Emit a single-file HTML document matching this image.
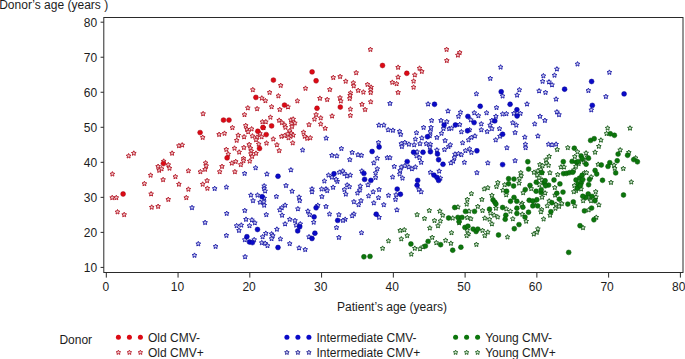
<!DOCTYPE html>
<html><head><meta charset="utf-8"><style>
html,body{margin:0;padding:0;background:#fff;}
svg{display:block;}
text{font-family:"Liberation Sans",sans-serif;font-size:12px;fill:#1c1c1c;}
</style></head><body>
<svg width="685" height="359" viewBox="0 0 685 359">
<rect width="685" height="359" fill="#fff"/>
<rect x="103.8" y="17.5" width="579.2" height="255" fill="none" stroke="#2a2a2a" stroke-width="1.0"/>
<line x1="100.6" y1="267.41" x2="103.8" y2="267.41" stroke="#2a2a2a" stroke-width="1.0"/>
<text x="97.2" y="272.01" text-anchor="end">10</text>
<line x1="100.6" y1="232.38" x2="103.8" y2="232.38" stroke="#2a2a2a" stroke-width="1.0"/>
<text x="97.2" y="236.98" text-anchor="end">20</text>
<line x1="100.6" y1="197.35" x2="103.8" y2="197.35" stroke="#2a2a2a" stroke-width="1.0"/>
<text x="97.2" y="201.95" text-anchor="end">30</text>
<line x1="100.6" y1="162.32" x2="103.8" y2="162.32" stroke="#2a2a2a" stroke-width="1.0"/>
<text x="97.2" y="166.92" text-anchor="end">40</text>
<line x1="100.6" y1="127.29" x2="103.8" y2="127.29" stroke="#2a2a2a" stroke-width="1.0"/>
<text x="97.2" y="131.89" text-anchor="end">50</text>
<line x1="100.6" y1="92.26" x2="103.8" y2="92.26" stroke="#2a2a2a" stroke-width="1.0"/>
<text x="97.2" y="96.86" text-anchor="end">60</text>
<line x1="100.6" y1="57.23" x2="103.8" y2="57.23" stroke="#2a2a2a" stroke-width="1.0"/>
<text x="97.2" y="61.83" text-anchor="end">70</text>
<line x1="100.6" y1="22.20" x2="103.8" y2="22.20" stroke="#2a2a2a" stroke-width="1.0"/>
<text x="97.2" y="26.80" text-anchor="end">80</text>
<line x1="106.30" y1="272.3" x2="106.30" y2="277.6" stroke="#2a2a2a" stroke-width="1.0"/>
<text x="105.90" y="290.8" text-anchor="middle">0</text>
<line x1="178.06" y1="272.3" x2="178.06" y2="277.6" stroke="#2a2a2a" stroke-width="1.0"/>
<text x="177.50" y="290.8" text-anchor="middle">10</text>
<line x1="249.82" y1="272.3" x2="249.82" y2="277.6" stroke="#2a2a2a" stroke-width="1.0"/>
<text x="249.09" y="290.8" text-anchor="middle">20</text>
<line x1="321.58" y1="272.3" x2="321.58" y2="277.6" stroke="#2a2a2a" stroke-width="1.0"/>
<text x="320.69" y="290.8" text-anchor="middle">30</text>
<line x1="393.34" y1="272.3" x2="393.34" y2="277.6" stroke="#2a2a2a" stroke-width="1.0"/>
<text x="392.29" y="290.8" text-anchor="middle">40</text>
<line x1="465.10" y1="272.3" x2="465.10" y2="277.6" stroke="#2a2a2a" stroke-width="1.0"/>
<text x="463.89" y="290.8" text-anchor="middle">50</text>
<line x1="536.86" y1="272.3" x2="536.86" y2="277.6" stroke="#2a2a2a" stroke-width="1.0"/>
<text x="535.49" y="290.8" text-anchor="middle">60</text>
<line x1="608.62" y1="272.3" x2="608.62" y2="277.6" stroke="#2a2a2a" stroke-width="1.0"/>
<text x="607.08" y="290.8" text-anchor="middle">70</text>
<line x1="680.38" y1="272.3" x2="680.38" y2="277.6" stroke="#2a2a2a" stroke-width="1.0"/>
<text x="678.68" y="290.8" text-anchor="middle">80</text>
<text x="-0.8" y="8.9">Donor’s age (years )</text>
<text x="392" y="311" text-anchor="middle">Patient’s age (years)</text>
<text x="59.4" y="343.8">Donor</text>
<circle cx="118.40" cy="337.3" r="2.5" fill="#dc0a14"/>
<polygon points="118.40,350.10 119.11,351.53 120.68,351.76 119.54,352.87 119.81,354.44 118.40,353.70 116.99,354.44 117.26,352.87 116.12,351.76 117.69,351.53" fill="#f0c4c8" stroke="#b8202e" stroke-width="0.9"/>
<circle cx="129.40" cy="337.3" r="2.5" fill="#dc0a14"/>
<polygon points="129.40,350.10 130.11,351.53 131.68,351.76 130.54,352.87 130.81,354.44 129.40,353.70 127.99,354.44 128.26,352.87 127.12,351.76 128.69,351.53" fill="#f0c4c8" stroke="#b8202e" stroke-width="0.9"/>
<circle cx="140.40" cy="337.3" r="2.5" fill="#dc0a14"/>
<polygon points="140.40,350.10 141.11,351.53 142.68,351.76 141.54,352.87 141.81,354.44 140.40,353.70 138.99,354.44 139.26,352.87 138.12,351.76 139.69,351.53" fill="#f0c4c8" stroke="#b8202e" stroke-width="0.9"/>
<text x="148.00" y="341.8">Old CMV-</text>
<text x="148.00" y="356.7">Old CMV+</text>
<circle cx="286.90" cy="337.3" r="2.5" fill="#0a0ac8"/>
<polygon points="286.90,350.10 287.61,351.53 289.18,351.76 288.04,352.87 288.31,354.44 286.90,353.70 285.49,354.44 285.76,352.87 284.62,351.76 286.19,351.53" fill="#c8c8f0" stroke="#262694" stroke-width="0.9"/>
<circle cx="297.90" cy="337.3" r="2.5" fill="#0a0ac8"/>
<polygon points="297.90,350.10 298.61,351.53 300.18,351.76 299.04,352.87 299.31,354.44 297.90,353.70 296.49,354.44 296.76,352.87 295.62,351.76 297.19,351.53" fill="#c8c8f0" stroke="#262694" stroke-width="0.9"/>
<circle cx="308.90" cy="337.3" r="2.5" fill="#0a0ac8"/>
<polygon points="308.90,350.10 309.61,351.53 311.18,351.76 310.04,352.87 310.31,354.44 308.90,353.70 307.49,354.44 307.76,352.87 306.62,351.76 308.19,351.53" fill="#c8c8f0" stroke="#262694" stroke-width="0.9"/>
<text x="316.50" y="341.8">Intermediate CMV-</text>
<text x="316.50" y="356.7">Intermediate CMV+</text>
<circle cx="455.60" cy="337.3" r="2.5" fill="#0c760c"/>
<polygon points="455.60,350.10 456.31,351.53 457.88,351.76 456.74,352.87 457.01,354.44 455.60,353.70 454.19,354.44 454.46,352.87 453.32,351.76 454.89,351.53" fill="#c8e4c8" stroke="#226022" stroke-width="0.9"/>
<circle cx="466.60" cy="337.3" r="2.5" fill="#0c760c"/>
<polygon points="466.60,350.10 467.31,351.53 468.88,351.76 467.74,352.87 468.01,354.44 466.60,353.70 465.19,354.44 465.46,352.87 464.32,351.76 465.89,351.53" fill="#c8e4c8" stroke="#226022" stroke-width="0.9"/>
<circle cx="477.60" cy="337.3" r="2.5" fill="#0c760c"/>
<polygon points="477.60,350.10 478.31,351.53 479.88,351.76 478.74,352.87 479.01,354.44 477.60,353.70 476.19,354.44 476.46,352.87 475.32,351.76 476.89,351.53" fill="#c8e4c8" stroke="#226022" stroke-width="0.9"/>
<text x="485.20" y="341.8">Young CMV-</text>
<text x="485.20" y="356.7">Young CMV+</text>
<polygon points="345.70,78.80 346.43,80.29 348.08,80.53 346.89,81.69 347.17,83.32 345.70,82.55 344.23,83.32 344.51,81.69 343.32,80.53 344.97,80.29" fill="#f0c4c8" stroke="#b8202e" stroke-width="1.0"/>
<polygon points="353.30,80.40 354.03,81.89 355.68,82.13 354.49,83.29 354.77,84.92 353.30,84.15 351.83,84.92 352.11,83.29 350.92,82.13 352.57,81.89" fill="#f0c4c8" stroke="#b8202e" stroke-width="1.0"/>
<polygon points="353.70,83.50 354.43,84.99 356.08,85.23 354.89,86.39 355.17,88.02 353.70,87.25 352.23,88.02 352.51,86.39 351.32,85.23 352.97,84.99" fill="#f0c4c8" stroke="#b8202e" stroke-width="1.0"/>
<polygon points="367.50,82.00 368.23,83.49 369.88,83.73 368.69,84.89 368.97,86.52 367.50,85.75 366.03,86.52 366.31,84.89 365.12,83.73 366.77,83.49" fill="#f0c4c8" stroke="#b8202e" stroke-width="1.0"/>
<polygon points="371.10,84.80 371.83,86.29 373.48,86.53 372.29,87.69 372.57,89.32 371.10,88.55 369.63,89.32 369.91,87.69 368.72,86.53 370.37,86.29" fill="#f0c4c8" stroke="#b8202e" stroke-width="1.0"/>
<polygon points="370.70,87.20 371.43,88.69 373.08,88.93 371.89,90.09 372.17,91.72 370.70,90.95 369.23,91.72 369.51,90.09 368.32,88.93 369.97,88.69" fill="#f0c4c8" stroke="#b8202e" stroke-width="1.0"/>
<polygon points="370.70,90.10 371.43,91.59 373.08,91.83 371.89,92.99 372.17,94.62 370.70,93.85 369.23,94.62 369.51,92.99 368.32,91.83 369.97,91.59" fill="#f0c4c8" stroke="#b8202e" stroke-width="1.0"/>
<polygon points="358.20,88.00 358.93,89.49 360.58,89.73 359.39,90.89 359.67,92.52 358.20,91.75 356.73,92.52 357.01,90.89 355.82,89.73 357.47,89.49" fill="#f0c4c8" stroke="#b8202e" stroke-width="1.0"/>
<polygon points="363.40,89.70 364.13,91.19 365.78,91.43 364.59,92.59 364.87,94.22 363.40,93.45 361.93,94.22 362.21,92.59 361.02,91.43 362.67,91.19" fill="#f0c4c8" stroke="#b8202e" stroke-width="1.0"/>
<polygon points="350.50,90.50 351.23,91.99 352.88,92.23 351.69,93.39 351.97,95.02 350.50,94.25 349.03,95.02 349.31,93.39 348.12,92.23 349.77,91.99" fill="#f0c4c8" stroke="#b8202e" stroke-width="1.0"/>
<polygon points="350.10,92.90 350.83,94.39 352.48,94.63 351.29,95.79 351.57,97.42 350.10,96.65 348.63,97.42 348.91,95.79 347.72,94.63 349.37,94.39" fill="#f0c4c8" stroke="#b8202e" stroke-width="1.0"/>
<polygon points="349.70,96.10 350.43,97.59 352.08,97.83 350.89,98.99 351.17,100.62 349.70,99.85 348.23,100.62 348.51,98.99 347.32,97.83 348.97,97.59" fill="#f0c4c8" stroke="#b8202e" stroke-width="1.0"/>
<polygon points="370.70,99.40 371.43,100.89 373.08,101.13 371.89,102.29 372.17,103.92 370.70,103.15 369.23,103.92 369.51,102.29 368.32,101.13 369.97,100.89" fill="#f0c4c8" stroke="#b8202e" stroke-width="1.0"/>
<polygon points="362.00,101.90 362.73,103.39 364.38,103.63 363.19,104.79 363.47,106.42 362.00,105.65 360.53,106.42 360.81,104.79 359.62,103.63 361.27,103.39" fill="#f0c4c8" stroke="#b8202e" stroke-width="1.0"/>
<polygon points="419.50,65.80 420.23,67.29 421.88,67.53 420.69,68.69 420.97,70.32 419.50,69.55 418.03,70.32 418.31,68.69 417.12,67.53 418.77,67.29" fill="#f0c4c8" stroke="#b8202e" stroke-width="1.0"/>
<polygon points="421.80,69.00 422.53,70.49 424.18,70.73 422.99,71.89 423.27,73.52 421.80,72.75 420.33,73.52 420.61,71.89 419.42,70.73 421.07,70.49" fill="#f0c4c8" stroke="#b8202e" stroke-width="1.0"/>
<polygon points="414.80,72.50 415.53,73.99 417.18,74.23 415.99,75.39 416.27,77.02 414.80,76.25 413.33,77.02 413.61,75.39 412.42,74.23 414.07,73.99" fill="#f0c4c8" stroke="#b8202e" stroke-width="1.0"/>
<polygon points="413.60,78.70 414.33,80.19 415.98,80.43 414.79,81.59 415.07,83.22 413.60,82.45 412.13,83.22 412.41,81.59 411.22,80.43 412.87,80.19" fill="#f0c4c8" stroke="#b8202e" stroke-width="1.0"/>
<polygon points="392.30,79.90 393.03,81.39 394.68,81.63 393.49,82.79 393.77,84.42 392.30,83.65 390.83,84.42 391.11,82.79 389.92,81.63 391.57,81.39" fill="#f0c4c8" stroke="#b8202e" stroke-width="1.0"/>
<polygon points="396.60,81.30 397.33,82.79 398.98,83.03 397.79,84.19 398.07,85.82 396.60,85.05 395.13,85.82 395.41,84.19 394.22,83.03 395.87,82.79" fill="#f0c4c8" stroke="#b8202e" stroke-width="1.0"/>
<polygon points="398.10,90.00 398.83,91.49 400.48,91.73 399.29,92.89 399.57,94.52 398.10,93.75 396.63,94.52 396.91,92.89 395.72,91.73 397.37,91.49" fill="#f0c4c8" stroke="#b8202e" stroke-width="1.0"/>
<polygon points="413.60,84.80 414.33,86.29 415.98,86.53 414.79,87.69 415.07,89.32 413.60,88.55 412.13,89.32 412.41,87.69 411.22,86.53 412.87,86.29" fill="#f0c4c8" stroke="#b8202e" stroke-width="1.0"/>
<polygon points="446.80,58.10 447.53,59.59 449.18,59.83 447.99,60.99 448.27,62.62 446.80,61.85 445.33,62.62 445.61,60.99 444.42,59.83 446.07,59.59" fill="#f0c4c8" stroke="#b8202e" stroke-width="1.0"/>
<polygon points="203.10,111.30 203.83,112.79 205.48,113.03 204.29,114.19 204.57,115.82 203.10,115.05 201.63,115.82 201.91,114.19 200.72,113.03 202.37,112.79" fill="#f0c4c8" stroke="#b8202e" stroke-width="1.0"/>
<polygon points="247.80,105.50 248.53,106.99 250.18,107.23 248.99,108.39 249.27,110.02 247.80,109.25 246.33,110.02 246.61,108.39 245.42,107.23 247.07,106.99" fill="#f0c4c8" stroke="#b8202e" stroke-width="1.0"/>
<polygon points="257.10,106.30 257.83,107.79 259.48,108.03 258.29,109.19 258.57,110.82 257.10,110.05 255.63,110.82 255.91,109.19 254.72,108.03 256.37,107.79" fill="#f0c4c8" stroke="#b8202e" stroke-width="1.0"/>
<polygon points="244.50,112.20 245.23,113.69 246.88,113.93 245.69,115.09 245.97,116.72 244.50,115.95 243.03,116.72 243.31,115.09 242.12,113.93 243.77,113.69" fill="#f0c4c8" stroke="#b8202e" stroke-width="1.0"/>
<polygon points="202.70,135.00 203.43,136.49 205.08,136.73 203.89,137.89 204.17,139.52 202.70,138.75 201.23,139.52 201.51,137.89 200.32,136.73 201.97,136.49" fill="#f0c4c8" stroke="#b8202e" stroke-width="1.0"/>
<polygon points="219.10,132.00 219.83,133.49 221.48,133.73 220.29,134.89 220.57,136.52 219.10,135.75 217.63,136.52 217.91,134.89 216.72,133.73 218.37,133.49" fill="#f0c4c8" stroke="#b8202e" stroke-width="1.0"/>
<polygon points="224.50,130.90 225.23,132.39 226.88,132.63 225.69,133.79 225.97,135.42 224.50,134.65 223.03,135.42 223.31,133.79 222.12,132.63 223.77,132.39" fill="#f0c4c8" stroke="#b8202e" stroke-width="1.0"/>
<polygon points="232.40,125.20 233.13,126.69 234.78,126.93 233.59,128.09 233.87,129.72 232.40,128.95 230.93,129.72 231.21,128.09 230.02,126.93 231.67,126.69" fill="#f0c4c8" stroke="#b8202e" stroke-width="1.0"/>
<polygon points="245.70,123.10 246.43,124.59 248.08,124.83 246.89,125.99 247.17,127.62 245.70,126.85 244.23,127.62 244.51,125.99 243.32,124.83 244.97,124.59" fill="#f0c4c8" stroke="#b8202e" stroke-width="1.0"/>
<polygon points="247.00,126.90 247.73,128.39 249.38,128.63 248.19,129.79 248.47,131.42 247.00,130.65 245.53,131.42 245.81,129.79 244.62,128.63 246.27,128.39" fill="#f0c4c8" stroke="#b8202e" stroke-width="1.0"/>
<polygon points="251.60,126.50 252.33,127.99 253.98,128.23 252.79,129.39 253.07,131.02 251.60,130.25 250.13,131.02 250.41,129.39 249.22,128.23 250.87,127.99" fill="#f0c4c8" stroke="#b8202e" stroke-width="1.0"/>
<polygon points="248.20,129.40 248.93,130.89 250.58,131.13 249.39,132.29 249.67,133.92 248.20,133.15 246.73,133.92 247.01,132.29 245.82,131.13 247.47,130.89" fill="#f0c4c8" stroke="#b8202e" stroke-width="1.0"/>
<polygon points="238.20,132.80 238.93,134.29 240.58,134.53 239.39,135.69 239.67,137.32 238.20,136.55 236.73,137.32 237.01,135.69 235.82,134.53 237.47,134.29" fill="#f0c4c8" stroke="#b8202e" stroke-width="1.0"/>
<polygon points="236.70,137.90 237.43,139.39 239.08,139.63 237.89,140.79 238.17,142.42 236.70,141.65 235.23,142.42 235.51,140.79 234.32,139.63 235.97,139.39" fill="#f0c4c8" stroke="#b8202e" stroke-width="1.0"/>
<polygon points="244.10,134.40 244.83,135.89 246.48,136.13 245.29,137.29 245.57,138.92 244.10,138.15 242.63,138.92 242.91,137.29 241.72,136.13 243.37,135.89" fill="#f0c4c8" stroke="#b8202e" stroke-width="1.0"/>
<polygon points="252.40,133.60 253.13,135.09 254.78,135.33 253.59,136.49 253.87,138.12 252.40,137.35 250.93,138.12 251.21,136.49 250.02,135.33 251.67,135.09" fill="#f0c4c8" stroke="#b8202e" stroke-width="1.0"/>
<polygon points="262.40,119.40 263.13,120.89 264.78,121.13 263.59,122.29 263.87,123.92 262.40,123.15 260.93,123.92 261.21,122.29 260.02,121.13 261.67,120.89" fill="#f0c4c8" stroke="#b8202e" stroke-width="1.0"/>
<polygon points="265.80,119.40 266.53,120.89 268.18,121.13 266.99,122.29 267.27,123.92 265.80,123.15 264.33,123.92 264.61,122.29 263.42,121.13 265.07,120.89" fill="#f0c4c8" stroke="#b8202e" stroke-width="1.0"/>
<polygon points="263.60,125.20 264.33,126.69 265.98,126.93 264.79,128.09 265.07,129.72 263.60,128.95 262.13,129.72 262.41,128.09 261.22,126.93 262.87,126.69" fill="#f0c4c8" stroke="#b8202e" stroke-width="1.0"/>
<polygon points="259.90,131.10 260.63,132.59 262.28,132.83 261.09,133.99 261.37,135.62 259.90,134.85 258.43,135.62 258.71,133.99 257.52,132.83 259.17,132.59" fill="#f0c4c8" stroke="#b8202e" stroke-width="1.0"/>
<polygon points="257.00,134.80 257.73,136.29 259.38,136.53 258.19,137.69 258.47,139.32 257.00,138.55 255.53,139.32 255.81,137.69 254.62,136.53 256.27,136.29" fill="#f0c4c8" stroke="#b8202e" stroke-width="1.0"/>
<polygon points="261.60,134.40 262.33,135.89 263.98,136.13 262.79,137.29 263.07,138.92 261.60,138.15 260.13,138.92 260.41,137.29 259.22,136.13 260.87,135.89" fill="#f0c4c8" stroke="#b8202e" stroke-width="1.0"/>
<polygon points="270.40,114.80 271.13,116.29 272.78,116.53 271.59,117.69 271.87,119.32 270.40,118.55 268.93,119.32 269.21,117.69 268.02,116.53 269.67,116.29" fill="#f0c4c8" stroke="#b8202e" stroke-width="1.0"/>
<polygon points="273.30,136.60 274.03,138.09 275.68,138.33 274.49,139.49 274.77,141.12 273.30,140.35 271.83,141.12 272.11,139.49 270.92,138.33 272.57,138.09" fill="#f0c4c8" stroke="#b8202e" stroke-width="1.0"/>
<polygon points="266.50,140.70 267.23,142.19 268.88,142.43 267.69,143.59 267.97,145.22 266.50,144.45 265.03,145.22 265.31,143.59 264.12,142.43 265.77,142.19" fill="#f0c4c8" stroke="#b8202e" stroke-width="1.0"/>
<polygon points="249.20,142.10 249.93,143.59 251.58,143.83 250.39,144.99 250.67,146.62 249.20,145.85 247.73,146.62 248.01,144.99 246.82,143.83 248.47,143.59" fill="#f0c4c8" stroke="#b8202e" stroke-width="1.0"/>
<polygon points="258.70,141.70 259.43,143.19 261.08,143.43 259.89,144.59 260.17,146.22 258.70,145.45 257.23,146.22 257.51,144.59 256.32,143.43 257.97,143.19" fill="#f0c4c8" stroke="#b8202e" stroke-width="1.0"/>
<polygon points="279.20,117.90 279.93,119.39 281.58,119.63 280.39,120.79 280.67,122.42 279.20,121.65 277.73,122.42 278.01,120.79 276.82,119.63 278.47,119.39" fill="#f0c4c8" stroke="#b8202e" stroke-width="1.0"/>
<polygon points="281.90,120.20 282.63,121.69 284.28,121.93 283.09,123.09 283.37,124.72 281.90,123.95 280.43,124.72 280.71,123.09 279.52,121.93 281.17,121.69" fill="#f0c4c8" stroke="#b8202e" stroke-width="1.0"/>
<polygon points="284.60,122.60 285.33,124.09 286.98,124.33 285.79,125.49 286.07,127.12 284.60,126.35 283.13,127.12 283.41,125.49 282.22,124.33 283.87,124.09" fill="#f0c4c8" stroke="#b8202e" stroke-width="1.0"/>
<polygon points="285.40,124.90 286.13,126.39 287.78,126.63 286.59,127.79 286.87,129.42 285.40,128.65 283.93,129.42 284.21,127.79 283.02,126.63 284.67,126.39" fill="#f0c4c8" stroke="#b8202e" stroke-width="1.0"/>
<polygon points="290.90,117.50 291.63,118.99 293.28,119.23 292.09,120.39 292.37,122.02 290.90,121.25 289.43,122.02 289.71,120.39 288.52,119.23 290.17,118.99" fill="#f0c4c8" stroke="#b8202e" stroke-width="1.0"/>
<polygon points="293.20,116.70 293.93,118.19 295.58,118.43 294.39,119.59 294.67,121.22 293.20,120.45 291.73,121.22 292.01,119.59 290.82,118.43 292.47,118.19" fill="#f0c4c8" stroke="#b8202e" stroke-width="1.0"/>
<polygon points="294.80,120.60 295.53,122.09 297.18,122.33 295.99,123.49 296.27,125.12 294.80,124.35 293.33,125.12 293.61,123.49 292.42,122.33 294.07,122.09" fill="#f0c4c8" stroke="#b8202e" stroke-width="1.0"/>
<polygon points="291.60,121.40 292.33,122.89 293.98,123.13 292.79,124.29 293.07,125.92 291.60,125.15 290.13,125.92 290.41,124.29 289.22,123.13 290.87,122.89" fill="#f0c4c8" stroke="#b8202e" stroke-width="1.0"/>
<polygon points="292.00,124.10 292.73,125.59 294.38,125.83 293.19,126.99 293.47,128.62 292.00,127.85 290.53,128.62 290.81,126.99 289.62,125.83 291.27,125.59" fill="#f0c4c8" stroke="#b8202e" stroke-width="1.0"/>
<polygon points="289.70,128.40 290.43,129.89 292.08,130.13 290.89,131.29 291.17,132.92 289.70,132.15 288.23,132.92 288.51,131.29 287.32,130.13 288.97,129.89" fill="#f0c4c8" stroke="#b8202e" stroke-width="1.0"/>
<polygon points="291.20,130.80 291.93,132.29 293.58,132.53 292.39,133.69 292.67,135.32 291.20,134.55 289.73,135.32 290.01,133.69 288.82,132.53 290.47,132.29" fill="#f0c4c8" stroke="#b8202e" stroke-width="1.0"/>
<polygon points="293.20,132.70 293.93,134.19 295.58,134.43 294.39,135.59 294.67,137.22 293.20,136.45 291.73,137.22 292.01,135.59 290.82,134.43 292.47,134.19" fill="#f0c4c8" stroke="#b8202e" stroke-width="1.0"/>
<polygon points="290.50,133.90 291.23,135.39 292.88,135.63 291.69,136.79 291.97,138.42 290.50,137.65 289.03,138.42 289.31,136.79 288.12,135.63 289.77,135.39" fill="#f0c4c8" stroke="#b8202e" stroke-width="1.0"/>
<polygon points="281.50,133.90 282.23,135.39 283.88,135.63 282.69,136.79 282.97,138.42 281.50,137.65 280.03,138.42 280.31,136.79 279.12,135.63 280.77,135.39" fill="#f0c4c8" stroke="#b8202e" stroke-width="1.0"/>
<polygon points="284.60,133.10 285.33,134.59 286.98,134.83 285.79,135.99 286.07,137.62 284.60,136.85 283.13,137.62 283.41,135.99 282.22,134.83 283.87,134.59" fill="#f0c4c8" stroke="#b8202e" stroke-width="1.0"/>
<polygon points="287.70,131.50 288.43,132.99 290.08,133.23 288.89,134.39 289.17,136.02 287.70,135.25 286.23,136.02 286.51,134.39 285.32,133.23 286.97,132.99" fill="#f0c4c8" stroke="#b8202e" stroke-width="1.0"/>
<polygon points="288.50,135.40 289.23,136.89 290.88,137.13 289.69,138.29 289.97,139.92 288.50,139.15 287.03,139.92 287.31,138.29 286.12,137.13 287.77,136.89" fill="#f0c4c8" stroke="#b8202e" stroke-width="1.0"/>
<polygon points="271.60,104.30 272.33,105.79 273.98,106.03 272.79,107.19 273.07,108.82 271.60,108.05 270.13,108.82 270.41,107.19 269.22,106.03 270.87,105.79" fill="#f0c4c8" stroke="#b8202e" stroke-width="1.0"/>
<polygon points="288.00,104.50 288.73,105.99 290.38,106.23 289.19,107.39 289.47,109.02 288.00,108.25 286.53,109.02 286.81,107.39 285.62,106.23 287.27,105.99" fill="#f0c4c8" stroke="#b8202e" stroke-width="1.0"/>
<polygon points="279.80,107.10 280.53,108.59 282.18,108.83 280.99,109.99 281.27,111.62 279.80,110.85 278.33,111.62 278.61,109.99 277.42,108.83 279.07,108.59" fill="#f0c4c8" stroke="#b8202e" stroke-width="1.0"/>
<polygon points="316.10,112.20 316.83,113.69 318.48,113.93 317.29,115.09 317.57,116.72 316.10,115.95 314.63,116.72 314.91,115.09 313.72,113.93 315.37,113.69" fill="#f0c4c8" stroke="#b8202e" stroke-width="1.0"/>
<polygon points="314.50,116.70 315.23,118.19 316.88,118.43 315.69,119.59 315.97,121.22 314.50,120.45 313.03,121.22 313.31,119.59 312.12,118.43 313.77,118.19" fill="#f0c4c8" stroke="#b8202e" stroke-width="1.0"/>
<polygon points="320.70,115.50 321.43,116.99 323.08,117.23 321.89,118.39 322.17,120.02 320.70,119.25 319.23,120.02 319.51,118.39 318.32,117.23 319.97,116.99" fill="#f0c4c8" stroke="#b8202e" stroke-width="1.0"/>
<polygon points="332.10,113.60 332.83,115.09 334.48,115.33 333.29,116.49 333.57,118.12 332.10,117.35 330.63,118.12 330.91,116.49 329.72,115.33 331.37,115.09" fill="#f0c4c8" stroke="#b8202e" stroke-width="1.0"/>
<polygon points="309.00,122.20 309.73,123.69 311.38,123.93 310.19,125.09 310.47,126.72 309.00,125.95 307.53,126.72 307.81,125.09 306.62,123.93 308.27,123.69" fill="#f0c4c8" stroke="#b8202e" stroke-width="1.0"/>
<polygon points="320.70,121.60 321.43,123.09 323.08,123.33 321.89,124.49 322.17,126.12 320.70,125.35 319.23,126.12 319.51,124.49 318.32,123.33 319.97,123.09" fill="#f0c4c8" stroke="#b8202e" stroke-width="1.0"/>
<polygon points="325.20,125.90 325.93,127.39 327.58,127.63 326.39,128.79 326.67,130.42 325.20,129.65 323.73,130.42 324.01,128.79 322.82,127.63 324.47,127.39" fill="#f0c4c8" stroke="#b8202e" stroke-width="1.0"/>
<polygon points="303.50,129.80 304.23,131.29 305.88,131.53 304.69,132.69 304.97,134.32 303.50,133.55 302.03,134.32 302.31,132.69 301.12,131.53 302.77,131.29" fill="#f0c4c8" stroke="#b8202e" stroke-width="1.0"/>
<polygon points="304.70,133.90 305.43,135.39 307.08,135.63 305.89,136.79 306.17,138.42 304.70,137.65 303.23,138.42 303.51,136.79 302.32,135.63 303.97,135.39" fill="#f0c4c8" stroke="#b8202e" stroke-width="1.0"/>
<polygon points="307.20,135.90 307.93,137.39 309.58,137.63 308.39,138.79 308.67,140.42 307.20,139.65 305.73,140.42 306.01,138.79 304.82,137.63 306.47,137.39" fill="#f0c4c8" stroke="#b8202e" stroke-width="1.0"/>
<polygon points="310.30,135.40 311.03,136.89 312.68,137.13 311.49,138.29 311.77,139.92 310.30,139.15 308.83,139.92 309.11,138.29 307.92,137.13 309.57,136.89" fill="#f0c4c8" stroke="#b8202e" stroke-width="1.0"/>
<polygon points="365.10,107.10 365.83,108.59 367.48,108.83 366.29,109.99 366.57,111.62 365.10,110.85 363.63,111.62 363.91,109.99 362.72,108.83 364.37,108.59" fill="#f0c4c8" stroke="#b8202e" stroke-width="1.0"/>
<polygon points="350.40,106.70 351.13,108.19 352.78,108.43 351.59,109.59 351.87,111.22 350.40,110.45 348.93,111.22 349.21,109.59 348.02,108.43 349.67,108.19" fill="#f0c4c8" stroke="#b8202e" stroke-width="1.0"/>
<polygon points="350.40,113.00 351.13,114.49 352.78,114.73 351.59,115.89 351.87,117.52 350.40,116.75 348.93,117.52 349.21,115.89 348.02,114.73 349.67,114.49" fill="#f0c4c8" stroke="#b8202e" stroke-width="1.0"/>
<polygon points="128.60,153.50 129.33,154.99 130.98,155.23 129.79,156.39 130.07,158.02 128.60,157.25 127.13,158.02 127.41,156.39 126.22,155.23 127.87,154.99" fill="#f0c4c8" stroke="#b8202e" stroke-width="1.0"/>
<polygon points="133.80,150.80 134.53,152.29 136.18,152.53 134.99,153.69 135.27,155.32 133.80,154.55 132.33,155.32 132.61,153.69 131.42,152.53 133.07,152.29" fill="#f0c4c8" stroke="#b8202e" stroke-width="1.0"/>
<polygon points="178.90,143.30 179.63,144.79 181.28,145.03 180.09,146.19 180.37,147.82 178.90,147.05 177.43,147.82 177.71,146.19 176.52,145.03 178.17,144.79" fill="#f0c4c8" stroke="#b8202e" stroke-width="1.0"/>
<polygon points="182.20,142.60 182.93,144.09 184.58,144.33 183.39,145.49 183.67,147.12 182.20,146.35 180.73,147.12 181.01,145.49 179.82,144.33 181.47,144.09" fill="#f0c4c8" stroke="#b8202e" stroke-width="1.0"/>
<polygon points="172.10,150.80 172.83,152.29 174.48,152.53 173.29,153.69 173.57,155.32 172.10,154.55 170.63,155.32 170.91,153.69 169.72,152.53 171.37,152.29" fill="#f0c4c8" stroke="#b8202e" stroke-width="1.0"/>
<polygon points="163.70,158.80 164.43,160.29 166.08,160.53 164.89,161.69 165.17,163.32 163.70,162.55 162.23,163.32 162.51,161.69 161.32,160.53 162.97,160.29" fill="#f0c4c8" stroke="#b8202e" stroke-width="1.0"/>
<polygon points="158.10,164.00 158.83,165.49 160.48,165.73 159.29,166.89 159.57,168.52 158.10,167.75 156.63,168.52 156.91,166.89 155.72,165.73 157.37,165.49" fill="#f0c4c8" stroke="#b8202e" stroke-width="1.0"/>
<polygon points="159.20,167.90 159.93,169.39 161.58,169.63 160.39,170.79 160.67,172.42 159.20,171.65 157.73,172.42 158.01,170.79 156.82,169.63 158.47,169.39" fill="#f0c4c8" stroke="#b8202e" stroke-width="1.0"/>
<polygon points="161.60,166.40 162.33,167.89 163.98,168.13 162.79,169.29 163.07,170.92 161.60,170.15 160.13,170.92 160.41,169.29 159.22,168.13 160.87,167.89" fill="#f0c4c8" stroke="#b8202e" stroke-width="1.0"/>
<polygon points="168.30,162.30 169.03,163.79 170.68,164.03 169.49,165.19 169.77,166.82 168.30,166.05 166.83,166.82 167.11,165.19 165.92,164.03 167.57,163.79" fill="#f0c4c8" stroke="#b8202e" stroke-width="1.0"/>
<polygon points="169.50,165.80 170.23,167.29 171.88,167.53 170.69,168.69 170.97,170.32 169.50,169.55 168.03,170.32 168.31,168.69 167.12,167.53 168.77,167.29" fill="#f0c4c8" stroke="#b8202e" stroke-width="1.0"/>
<polygon points="112.40,171.60 113.13,173.09 114.78,173.33 113.59,174.49 113.87,176.12 112.40,175.35 110.93,176.12 111.21,174.49 110.02,173.33 111.67,173.09" fill="#f0c4c8" stroke="#b8202e" stroke-width="1.0"/>
<polygon points="150.60,172.80 151.33,174.29 152.98,174.53 151.79,175.69 152.07,177.32 150.60,176.55 149.13,177.32 149.41,175.69 148.22,174.53 149.87,174.29" fill="#f0c4c8" stroke="#b8202e" stroke-width="1.0"/>
<polygon points="175.40,174.20 176.13,175.69 177.78,175.93 176.59,177.09 176.87,178.72 175.40,177.95 173.93,178.72 174.21,177.09 173.02,175.93 174.67,175.69" fill="#f0c4c8" stroke="#b8202e" stroke-width="1.0"/>
<polygon points="163.10,177.20 163.83,178.69 165.48,178.93 164.29,180.09 164.57,181.72 163.10,180.95 161.63,181.72 161.91,180.09 160.72,178.93 162.37,178.69" fill="#f0c4c8" stroke="#b8202e" stroke-width="1.0"/>
<polygon points="226.30,147.00 227.03,148.49 228.68,148.73 227.49,149.89 227.77,151.52 226.30,150.75 224.83,151.52 225.11,149.89 223.92,148.73 225.57,148.49" fill="#f0c4c8" stroke="#b8202e" stroke-width="1.0"/>
<polygon points="234.50,145.80 235.23,147.29 236.88,147.53 235.69,148.69 235.97,150.32 234.50,149.55 233.03,150.32 233.31,148.69 232.12,147.53 233.77,147.29" fill="#f0c4c8" stroke="#b8202e" stroke-width="1.0"/>
<polygon points="239.20,149.70 239.93,151.19 241.58,151.43 240.39,152.59 240.67,154.22 239.20,153.45 237.73,154.22 238.01,152.59 236.82,151.43 238.47,151.19" fill="#f0c4c8" stroke="#b8202e" stroke-width="1.0"/>
<polygon points="243.90,145.10 244.63,146.59 246.28,146.83 245.09,147.99 245.37,149.62 243.90,148.85 242.43,149.62 242.71,147.99 241.52,146.83 243.17,146.59" fill="#f0c4c8" stroke="#b8202e" stroke-width="1.0"/>
<polygon points="250.50,145.80 251.23,147.29 252.88,147.53 251.69,148.69 251.97,150.32 250.50,149.55 249.03,150.32 249.31,148.69 248.12,147.53 249.77,147.29" fill="#f0c4c8" stroke="#b8202e" stroke-width="1.0"/>
<polygon points="251.30,148.60 252.03,150.09 253.68,150.33 252.49,151.49 252.77,153.12 251.30,152.35 249.83,153.12 250.11,151.49 248.92,150.33 250.57,150.09" fill="#f0c4c8" stroke="#b8202e" stroke-width="1.0"/>
<polygon points="250.90,151.30 251.63,152.79 253.28,153.03 252.09,154.19 252.37,155.82 250.90,155.05 249.43,155.82 249.71,154.19 248.52,153.03 250.17,152.79" fill="#f0c4c8" stroke="#b8202e" stroke-width="1.0"/>
<polygon points="252.10,154.00 252.83,155.49 254.48,155.73 253.29,156.89 253.57,158.52 252.10,157.75 250.63,158.52 250.91,156.89 249.72,155.73 251.37,155.49" fill="#f0c4c8" stroke="#b8202e" stroke-width="1.0"/>
<polygon points="256.00,150.90 256.73,152.39 258.38,152.63 257.19,153.79 257.47,155.42 256.00,154.65 254.53,155.42 254.81,153.79 253.62,152.63 255.27,152.39" fill="#f0c4c8" stroke="#b8202e" stroke-width="1.0"/>
<polygon points="256.00,137.30 256.73,138.79 258.38,139.03 257.19,140.19 257.47,141.82 256.00,141.05 254.53,141.82 254.81,140.19 253.62,139.03 255.27,138.79" fill="#f0c4c8" stroke="#b8202e" stroke-width="1.0"/>
<polygon points="243.50,156.00 244.23,157.49 245.88,157.73 244.69,158.89 244.97,160.52 243.50,159.75 242.03,160.52 242.31,158.89 241.12,157.73 242.77,157.49" fill="#f0c4c8" stroke="#b8202e" stroke-width="1.0"/>
<polygon points="243.50,158.30 244.23,159.79 245.88,160.03 244.69,161.19 244.97,162.82 243.50,162.05 242.03,162.82 242.31,161.19 241.12,160.03 242.77,159.79" fill="#f0c4c8" stroke="#b8202e" stroke-width="1.0"/>
<polygon points="249.70,158.70 250.43,160.19 252.08,160.43 250.89,161.59 251.17,163.22 249.70,162.45 248.23,163.22 248.51,161.59 247.32,160.43 248.97,160.19" fill="#f0c4c8" stroke="#b8202e" stroke-width="1.0"/>
<polygon points="235.70,159.10 236.43,160.59 238.08,160.83 236.89,161.99 237.17,163.62 235.70,162.85 234.23,163.62 234.51,161.99 233.32,160.83 234.97,160.59" fill="#f0c4c8" stroke="#b8202e" stroke-width="1.0"/>
<polygon points="231.80,160.70 232.53,162.19 234.18,162.43 232.99,163.59 233.27,165.22 231.80,164.45 230.33,165.22 230.61,163.59 229.42,162.43 231.07,162.19" fill="#f0c4c8" stroke="#b8202e" stroke-width="1.0"/>
<polygon points="240.80,162.20 241.53,163.69 243.18,163.93 241.99,165.09 242.27,166.72 240.80,165.95 239.33,166.72 239.61,165.09 238.42,163.93 240.07,163.69" fill="#f0c4c8" stroke="#b8202e" stroke-width="1.0"/>
<polygon points="228.30,151.70 229.03,153.19 230.68,153.43 229.49,154.59 229.77,156.22 228.30,155.45 226.83,156.22 227.11,154.59 225.92,153.43 227.57,153.19" fill="#f0c4c8" stroke="#b8202e" stroke-width="1.0"/>
<polygon points="205.60,160.50 206.33,161.99 207.98,162.23 206.79,163.39 207.07,165.02 205.60,164.25 204.13,165.02 204.41,163.39 203.22,162.23 204.87,161.99" fill="#f0c4c8" stroke="#b8202e" stroke-width="1.0"/>
<polygon points="206.20,163.40 206.93,164.89 208.58,165.13 207.39,166.29 207.67,167.92 206.20,167.15 204.73,167.92 205.01,166.29 203.82,165.13 205.47,164.89" fill="#f0c4c8" stroke="#b8202e" stroke-width="1.0"/>
<polygon points="205.10,166.90 205.83,168.39 207.48,168.63 206.29,169.79 206.57,171.42 205.10,170.65 203.63,171.42 203.91,169.79 202.72,168.63 204.37,168.39" fill="#f0c4c8" stroke="#b8202e" stroke-width="1.0"/>
<polygon points="200.40,169.30 201.13,170.79 202.78,171.03 201.59,172.19 201.87,173.82 200.40,173.05 198.93,173.82 199.21,172.19 198.02,171.03 199.67,170.79" fill="#f0c4c8" stroke="#b8202e" stroke-width="1.0"/>
<polygon points="222.00,164.00 222.73,165.49 224.38,165.73 223.19,166.89 223.47,168.52 222.00,167.75 220.53,168.52 220.81,166.89 219.62,165.73 221.27,165.49" fill="#f0c4c8" stroke="#b8202e" stroke-width="1.0"/>
<polygon points="219.70,169.30 220.43,170.79 222.08,171.03 220.89,172.19 221.17,173.82 219.70,173.05 218.23,173.82 218.51,172.19 217.32,171.03 218.97,170.79" fill="#f0c4c8" stroke="#b8202e" stroke-width="1.0"/>
<polygon points="188.40,168.40 189.13,169.89 190.78,170.13 189.59,171.29 189.87,172.92 188.40,172.15 186.93,172.92 187.21,171.29 186.02,170.13 187.67,169.89" fill="#f0c4c8" stroke="#b8202e" stroke-width="1.0"/>
<polygon points="234.90,169.30 235.63,170.79 237.28,171.03 236.09,172.19 236.37,173.82 234.90,173.05 233.43,173.82 233.71,172.19 232.52,171.03 234.17,170.79" fill="#f0c4c8" stroke="#b8202e" stroke-width="1.0"/>
<polygon points="207.10,178.20 207.83,179.69 209.48,179.93 208.29,181.09 208.57,182.72 207.10,181.95 205.63,182.72 205.91,181.09 204.72,179.93 206.37,179.69" fill="#f0c4c8" stroke="#b8202e" stroke-width="1.0"/>
<polygon points="276.90,142.40 277.63,143.89 279.28,144.13 278.09,145.29 278.37,146.92 276.90,146.15 275.43,146.92 275.71,145.29 274.52,144.13 276.17,143.89" fill="#f0c4c8" stroke="#b8202e" stroke-width="1.0"/>
<polygon points="279.20,148.20 279.93,149.69 281.58,149.93 280.39,151.09 280.67,152.72 279.20,151.95 277.73,152.72 278.01,151.09 276.82,149.93 278.47,149.69" fill="#f0c4c8" stroke="#b8202e" stroke-width="1.0"/>
<polygon points="292.70,140.50 293.43,141.99 295.08,142.23 293.89,143.39 294.17,145.02 292.70,144.25 291.23,145.02 291.51,143.39 290.32,142.23 291.97,141.99" fill="#f0c4c8" stroke="#b8202e" stroke-width="1.0"/>
<polygon points="144.40,181.20 145.13,182.69 146.78,182.93 145.59,184.09 145.87,185.72 144.40,184.95 142.93,185.72 143.21,184.09 142.02,182.93 143.67,182.69" fill="#f0c4c8" stroke="#b8202e" stroke-width="1.0"/>
<polygon points="178.90,181.80 179.63,183.29 181.28,183.53 180.09,184.69 180.37,186.32 178.90,185.55 177.43,186.32 177.71,184.69 176.52,183.53 178.17,183.29" fill="#f0c4c8" stroke="#b8202e" stroke-width="1.0"/>
<polygon points="112.20,195.20 112.93,196.69 114.58,196.93 113.39,198.09 113.67,199.72 112.20,198.95 110.73,199.72 111.01,198.09 109.82,196.93 111.47,196.69" fill="#f0c4c8" stroke="#b8202e" stroke-width="1.0"/>
<polygon points="116.30,195.20 117.03,196.69 118.68,196.93 117.49,198.09 117.77,199.72 116.30,198.95 114.83,199.72 115.11,198.09 113.92,196.93 115.57,196.69" fill="#f0c4c8" stroke="#b8202e" stroke-width="1.0"/>
<polygon points="151.10,191.50 151.83,192.99 153.48,193.23 152.29,194.39 152.57,196.02 151.10,195.25 149.63,196.02 149.91,194.39 148.72,193.23 150.37,192.99" fill="#f0c4c8" stroke="#b8202e" stroke-width="1.0"/>
<polygon points="168.30,197.00 169.03,198.49 170.68,198.73 169.49,199.89 169.77,201.52 168.30,200.75 166.83,201.52 167.11,199.89 165.92,198.73 167.57,198.49" fill="#f0c4c8" stroke="#b8202e" stroke-width="1.0"/>
<polygon points="151.70,204.80 152.43,206.29 154.08,206.53 152.89,207.69 153.17,209.32 151.70,208.55 150.23,209.32 150.51,207.69 149.32,206.53 150.97,206.29" fill="#f0c4c8" stroke="#b8202e" stroke-width="1.0"/>
<polygon points="158.10,204.00 158.83,205.49 160.48,205.73 159.29,206.89 159.57,208.52 158.10,207.75 156.63,208.52 156.91,206.89 155.72,205.73 157.37,205.49" fill="#f0c4c8" stroke="#b8202e" stroke-width="1.0"/>
<polygon points="117.50,209.50 118.23,210.99 119.88,211.23 118.69,212.39 118.97,214.02 117.50,213.25 116.03,214.02 116.31,212.39 115.12,211.23 116.77,210.99" fill="#f0c4c8" stroke="#b8202e" stroke-width="1.0"/>
<polygon points="124.20,212.20 124.93,213.69 126.58,213.93 125.39,215.09 125.67,216.72 124.20,215.95 122.73,216.72 123.01,215.09 121.82,213.93 123.47,213.69" fill="#f0c4c8" stroke="#b8202e" stroke-width="1.0"/>
<polygon points="202.70,181.80 203.43,183.29 205.08,183.53 203.89,184.69 204.17,186.32 202.70,185.55 201.23,186.32 201.51,184.69 200.32,183.53 201.97,183.29" fill="#f0c4c8" stroke="#b8202e" stroke-width="1.0"/>
<polygon points="207.40,185.90 208.13,187.39 209.78,187.63 208.59,188.79 208.87,190.42 207.40,189.65 205.93,190.42 206.21,188.79 205.02,187.63 206.67,187.39" fill="#f0c4c8" stroke="#b8202e" stroke-width="1.0"/>
<polygon points="188.40,186.80 189.13,188.29 190.78,188.53 189.59,189.69 189.87,191.32 188.40,190.55 186.93,191.32 187.21,189.69 186.02,188.53 187.67,188.29" fill="#f0c4c8" stroke="#b8202e" stroke-width="1.0"/>
<polygon points="186.30,195.20 187.03,196.69 188.68,196.93 187.49,198.09 187.77,199.72 186.30,198.95 184.83,199.72 185.11,198.09 183.92,196.93 185.57,196.69" fill="#f0c4c8" stroke="#b8202e" stroke-width="1.0"/>
<polygon points="370.40,47.00 371.13,48.49 372.78,48.73 371.59,49.89 371.87,51.52 370.40,50.75 368.93,51.52 369.21,49.89 368.02,48.73 369.67,48.49" fill="#f0c4c8" stroke="#b8202e" stroke-width="1.0"/>
<polygon points="398.10,64.90 398.83,66.39 400.48,66.63 399.29,67.79 399.57,69.42 398.10,68.65 396.63,69.42 396.91,67.79 395.72,66.63 397.37,66.39" fill="#f0c4c8" stroke="#b8202e" stroke-width="1.0"/>
<polygon points="356.20,70.30 356.93,71.79 358.58,72.03 357.39,73.19 357.67,74.82 356.20,74.05 354.73,74.82 355.01,73.19 353.82,72.03 355.47,71.79" fill="#f0c4c8" stroke="#b8202e" stroke-width="1.0"/>
<polygon points="340.10,74.10 340.83,75.59 342.48,75.83 341.29,76.99 341.57,78.62 340.10,77.85 338.63,78.62 338.91,76.99 337.72,75.83 339.37,75.59" fill="#f0c4c8" stroke="#b8202e" stroke-width="1.0"/>
<polygon points="333.30,75.10 334.03,76.59 335.68,76.83 334.49,77.99 334.77,79.62 333.30,78.85 331.83,79.62 332.11,77.99 330.92,76.83 332.57,76.59" fill="#f0c4c8" stroke="#b8202e" stroke-width="1.0"/>
<polygon points="398.10,74.70 398.83,76.19 400.48,76.43 399.29,77.59 399.57,79.22 398.10,78.45 396.63,79.22 396.91,77.59 395.72,76.43 397.37,76.19" fill="#f0c4c8" stroke="#b8202e" stroke-width="1.0"/>
<polygon points="446.60,47.00 447.33,48.49 448.98,48.73 447.79,49.89 448.07,51.52 446.60,50.75 445.13,51.52 445.41,49.89 444.22,48.73 445.87,48.49" fill="#f0c4c8" stroke="#b8202e" stroke-width="1.0"/>
<polygon points="459.70,50.10 460.43,51.59 462.08,51.83 460.89,52.99 461.17,54.62 459.70,53.85 458.23,54.62 458.51,52.99 457.32,51.83 458.97,51.59" fill="#f0c4c8" stroke="#b8202e" stroke-width="1.0"/>
<polygon points="457.90,52.70 458.63,54.19 460.28,54.43 459.09,55.59 459.37,57.22 457.90,56.45 456.43,57.22 456.71,55.59 455.52,54.43 457.17,54.19" fill="#f0c4c8" stroke="#b8202e" stroke-width="1.0"/>
<polygon points="252.80,87.30 253.53,88.79 255.18,89.03 253.99,90.19 254.27,91.82 252.80,91.05 251.33,91.82 251.61,90.19 250.42,89.03 252.07,88.79" fill="#f0c4c8" stroke="#b8202e" stroke-width="1.0"/>
<polygon points="261.80,95.70 262.53,97.19 264.18,97.43 262.99,98.59 263.27,100.22 261.80,99.45 260.33,100.22 260.61,98.59 259.42,97.43 261.07,97.19" fill="#f0c4c8" stroke="#b8202e" stroke-width="1.0"/>
<polygon points="280.70,83.00 281.43,84.49 283.08,84.73 281.89,85.89 282.17,87.52 280.70,86.75 279.23,87.52 279.51,85.89 278.32,84.73 279.97,84.49" fill="#f0c4c8" stroke="#b8202e" stroke-width="1.0"/>
<polygon points="305.50,85.90 306.23,87.39 307.88,87.63 306.69,88.79 306.97,90.42 305.50,89.65 304.03,90.42 304.31,88.79 303.12,87.63 304.77,87.39" fill="#f0c4c8" stroke="#b8202e" stroke-width="1.0"/>
<polygon points="329.80,87.10 330.53,88.59 332.18,88.83 330.99,89.99 331.27,91.62 329.80,90.85 328.33,91.62 328.61,89.99 327.42,88.83 329.07,88.59" fill="#f0c4c8" stroke="#b8202e" stroke-width="1.0"/>
<polygon points="269.60,90.00 270.33,91.49 271.98,91.73 270.79,92.89 271.07,94.52 269.60,93.75 268.13,94.52 268.41,92.89 267.22,91.73 268.87,91.49" fill="#f0c4c8" stroke="#b8202e" stroke-width="1.0"/>
<polygon points="278.40,93.50 279.13,94.99 280.78,95.23 279.59,96.39 279.87,98.02 278.40,97.25 276.93,98.02 277.21,96.39 276.02,95.23 277.67,94.99" fill="#f0c4c8" stroke="#b8202e" stroke-width="1.0"/>
<polygon points="319.90,95.90 320.63,97.39 322.28,97.63 321.09,98.79 321.37,100.42 319.90,99.65 318.43,100.42 318.71,98.79 317.52,97.63 319.17,97.39" fill="#f0c4c8" stroke="#b8202e" stroke-width="1.0"/>
<polygon points="327.20,97.10 327.93,98.59 329.58,98.83 328.39,99.99 328.67,101.62 327.20,100.85 325.73,101.62 326.01,99.99 324.82,98.83 326.47,98.59" fill="#f0c4c8" stroke="#b8202e" stroke-width="1.0"/>
<polygon points="340.00,95.30 340.73,96.79 342.38,97.03 341.19,98.19 341.47,99.82 340.00,99.05 338.53,99.82 338.81,98.19 337.62,97.03 339.27,96.79" fill="#f0c4c8" stroke="#b8202e" stroke-width="1.0"/>
<polygon points="297.40,98.50 298.13,99.99 299.78,100.23 298.59,101.39 298.87,103.02 297.40,102.25 295.93,103.02 296.21,101.39 295.02,100.23 296.67,99.99" fill="#f0c4c8" stroke="#b8202e" stroke-width="1.0"/>
<polygon points="265.40,98.30 266.13,99.79 267.78,100.03 266.59,101.19 266.87,102.82 265.40,102.05 263.93,102.82 264.21,101.19 263.02,100.03 264.67,99.79" fill="#f0c4c8" stroke="#b8202e" stroke-width="1.0"/>
<polygon points="340.80,98.60 341.53,100.09 343.18,100.33 341.99,101.49 342.27,103.12 340.80,102.35 339.33,103.12 339.61,101.49 338.42,100.33 340.07,100.09" fill="#f0c4c8" stroke="#b8202e" stroke-width="1.0"/>
<circle cx="406.8" cy="73.3" r="2.45" fill="#dc0a14" stroke="#a00010" stroke-width="0.5"/>
<circle cx="223.5" cy="120.1" r="2.45" fill="#dc0a14" stroke="#a00010" stroke-width="0.5"/>
<circle cx="229.0" cy="120.1" r="2.45" fill="#dc0a14" stroke="#a00010" stroke-width="0.5"/>
<circle cx="200.1" cy="132.6" r="2.45" fill="#dc0a14" stroke="#a00010" stroke-width="0.5"/>
<circle cx="257.8" cy="131.3" r="2.45" fill="#dc0a14" stroke="#a00010" stroke-width="0.5"/>
<circle cx="262.9" cy="127.5" r="2.45" fill="#dc0a14" stroke="#a00010" stroke-width="0.5"/>
<circle cx="266.2" cy="134.6" r="2.45" fill="#dc0a14" stroke="#a00010" stroke-width="0.5"/>
<circle cx="271.6" cy="125.9" r="2.45" fill="#dc0a14" stroke="#a00010" stroke-width="0.5"/>
<circle cx="284.5" cy="105.1" r="2.45" fill="#dc0a14" stroke="#a00010" stroke-width="0.5"/>
<circle cx="317.0" cy="108.3" r="2.45" fill="#dc0a14" stroke="#a00010" stroke-width="0.5"/>
<circle cx="340.3" cy="107.1" r="2.45" fill="#dc0a14" stroke="#a00010" stroke-width="0.5"/>
<circle cx="163.4" cy="163.6" r="2.45" fill="#dc0a14" stroke="#a00010" stroke-width="0.5"/>
<circle cx="227.1" cy="157.9" r="2.45" fill="#dc0a14" stroke="#a00010" stroke-width="0.5"/>
<circle cx="259.5" cy="148.5" r="2.45" fill="#dc0a14" stroke="#a00010" stroke-width="0.5"/>
<circle cx="123.1" cy="194.0" r="2.45" fill="#dc0a14" stroke="#a00010" stroke-width="0.5"/>
<circle cx="382.5" cy="65.5" r="2.45" fill="#dc0a14" stroke="#a00010" stroke-width="0.5"/>
<circle cx="312.1" cy="71.9" r="2.45" fill="#dc0a14" stroke="#a00010" stroke-width="0.5"/>
<circle cx="316.1" cy="80.8" r="2.45" fill="#dc0a14" stroke="#a00010" stroke-width="0.5"/>
<circle cx="255.9" cy="97.4" r="2.45" fill="#dc0a14" stroke="#a00010" stroke-width="0.5"/>
<circle cx="273.4" cy="80.1" r="2.45" fill="#dc0a14" stroke="#a00010" stroke-width="0.5"/>
<polygon points="500.60,64.70 501.33,66.19 502.98,66.43 501.79,67.59 502.07,69.22 500.60,68.45 499.13,69.22 499.41,67.59 498.22,66.43 499.87,66.19" fill="#c8c8f0" stroke="#2424ac" stroke-width="1.0"/>
<polygon points="490.30,76.00 491.03,77.49 492.68,77.73 491.49,78.89 491.77,80.52 490.30,79.75 488.83,80.52 489.11,78.89 487.92,77.73 489.57,77.49" fill="#c8c8f0" stroke="#2424ac" stroke-width="1.0"/>
<polygon points="476.40,91.40 477.13,92.89 478.78,93.13 477.59,94.29 477.87,95.92 476.40,95.15 474.93,95.92 475.21,94.29 474.02,93.13 475.67,92.89" fill="#c8c8f0" stroke="#2424ac" stroke-width="1.0"/>
<polygon points="502.60,93.60 503.33,95.09 504.98,95.33 503.79,96.49 504.07,98.12 502.60,97.35 501.13,98.12 501.41,96.49 500.22,95.33 501.87,95.09" fill="#c8c8f0" stroke="#2424ac" stroke-width="1.0"/>
<polygon points="577.50,61.60 578.23,63.09 579.88,63.33 578.69,64.49 578.97,66.12 577.50,65.35 576.03,66.12 576.31,64.49 575.12,63.33 576.77,63.09" fill="#c8c8f0" stroke="#2424ac" stroke-width="1.0"/>
<polygon points="556.90,66.60 557.63,68.09 559.28,68.33 558.09,69.49 558.37,71.12 556.90,70.35 555.43,71.12 555.71,69.49 554.52,68.33 556.17,68.09" fill="#c8c8f0" stroke="#2424ac" stroke-width="1.0"/>
<polygon points="543.40,73.40 544.13,74.89 545.78,75.13 544.59,76.29 544.87,77.92 543.40,77.15 541.93,77.92 542.21,76.29 541.02,75.13 542.67,74.89" fill="#c8c8f0" stroke="#2424ac" stroke-width="1.0"/>
<polygon points="554.50,72.80 555.23,74.29 556.88,74.53 555.69,75.69 555.97,77.32 554.50,76.55 553.03,77.32 553.31,75.69 552.12,74.53 553.77,74.29" fill="#c8c8f0" stroke="#2424ac" stroke-width="1.0"/>
<polygon points="542.60,78.90 543.33,80.39 544.98,80.63 543.79,81.79 544.07,83.42 542.60,82.65 541.13,83.42 541.41,81.79 540.22,80.63 541.87,80.39" fill="#c8c8f0" stroke="#2424ac" stroke-width="1.0"/>
<polygon points="549.00,79.50 549.73,80.99 551.38,81.23 550.19,82.39 550.47,84.02 549.00,83.25 547.53,84.02 547.81,82.39 546.62,81.23 548.27,80.99" fill="#c8c8f0" stroke="#2424ac" stroke-width="1.0"/>
<polygon points="552.00,82.40 552.73,83.89 554.38,84.13 553.19,85.29 553.47,86.92 552.00,86.15 550.53,86.92 550.81,85.29 549.62,84.13 551.27,83.89" fill="#c8c8f0" stroke="#2424ac" stroke-width="1.0"/>
<polygon points="519.40,87.40 520.13,88.89 521.78,89.13 520.59,90.29 520.87,91.92 519.40,91.15 517.93,91.92 518.21,90.29 517.02,89.13 518.67,88.89" fill="#c8c8f0" stroke="#2424ac" stroke-width="1.0"/>
<polygon points="517.10,92.70 517.83,94.19 519.48,94.43 518.29,95.59 518.57,97.22 517.10,96.45 515.63,97.22 515.91,95.59 514.72,94.43 516.37,94.19" fill="#c8c8f0" stroke="#2424ac" stroke-width="1.0"/>
<polygon points="539.10,88.50 539.83,89.99 541.48,90.23 540.29,91.39 540.57,93.02 539.10,92.25 537.63,93.02 537.91,91.39 536.72,90.23 538.37,89.99" fill="#c8c8f0" stroke="#2424ac" stroke-width="1.0"/>
<polygon points="545.50,90.00 546.23,91.49 547.88,91.73 546.69,92.89 546.97,94.52 545.50,93.75 544.03,94.52 544.31,92.89 543.12,91.73 544.77,91.49" fill="#c8c8f0" stroke="#2424ac" stroke-width="1.0"/>
<polygon points="556.10,96.70 556.83,98.19 558.48,98.43 557.29,99.59 557.57,101.22 556.10,100.45 554.63,101.22 554.91,99.59 553.72,98.43 555.37,98.19" fill="#c8c8f0" stroke="#2424ac" stroke-width="1.0"/>
<polygon points="609.40,69.90 610.13,71.39 611.78,71.63 610.59,72.79 610.87,74.42 609.40,73.65 607.93,74.42 608.21,72.79 607.02,71.63 608.67,71.39" fill="#c8c8f0" stroke="#2424ac" stroke-width="1.0"/>
<polygon points="588.40,88.10 589.13,89.59 590.78,89.83 589.59,90.99 589.87,92.62 588.40,91.85 586.93,92.62 587.21,90.99 586.02,89.83 587.67,89.59" fill="#c8c8f0" stroke="#2424ac" stroke-width="1.0"/>
<polygon points="605.90,94.10 606.63,95.59 608.28,95.83 607.09,96.99 607.37,98.62 605.90,97.85 604.43,98.62 604.71,96.99 603.52,95.83 605.17,95.59" fill="#c8c8f0" stroke="#2424ac" stroke-width="1.0"/>
<polygon points="326.20,135.70 326.93,137.19 328.58,137.43 327.39,138.59 327.67,140.22 326.20,139.45 324.73,140.22 325.01,138.59 323.82,137.43 325.47,137.19" fill="#c8c8f0" stroke="#2424ac" stroke-width="1.0"/>
<polygon points="390.00,101.00 390.73,102.49 392.38,102.73 391.19,103.89 391.47,105.52 390.00,104.75 388.53,105.52 388.81,103.89 387.62,102.73 389.27,102.49" fill="#c8c8f0" stroke="#2424ac" stroke-width="1.0"/>
<polygon points="378.90,122.70 379.63,124.19 381.28,124.43 380.09,125.59 380.37,127.22 378.90,126.45 377.43,127.22 377.71,125.59 376.52,124.43 378.17,124.19" fill="#c8c8f0" stroke="#2424ac" stroke-width="1.0"/>
<polygon points="383.80,122.70 384.53,124.19 386.18,124.43 384.99,125.59 385.27,127.22 383.80,126.45 382.33,127.22 382.61,125.59 381.42,124.43 383.07,124.19" fill="#c8c8f0" stroke="#2424ac" stroke-width="1.0"/>
<polygon points="388.20,127.40 388.93,128.89 390.58,129.13 389.39,130.29 389.67,131.92 388.20,131.15 386.73,131.92 387.01,130.29 385.82,129.13 387.47,128.89" fill="#c8c8f0" stroke="#2424ac" stroke-width="1.0"/>
<polygon points="392.90,127.90 393.63,129.39 395.28,129.63 394.09,130.79 394.37,132.42 392.90,131.65 391.43,132.42 391.71,130.79 390.52,129.63 392.17,129.39" fill="#c8c8f0" stroke="#2424ac" stroke-width="1.0"/>
<polygon points="399.60,128.90 400.33,130.39 401.98,130.63 400.79,131.79 401.07,133.42 399.60,132.65 398.13,133.42 398.41,131.79 397.22,130.63 398.87,130.39" fill="#c8c8f0" stroke="#2424ac" stroke-width="1.0"/>
<polygon points="400.70,132.00 401.43,133.49 403.08,133.73 401.89,134.89 402.17,136.52 400.70,135.75 399.23,136.52 399.51,134.89 398.32,133.73 399.97,133.49" fill="#c8c8f0" stroke="#2424ac" stroke-width="1.0"/>
<polygon points="416.50,130.30 417.23,131.79 418.88,132.03 417.69,133.19 417.97,134.82 416.50,134.05 415.03,134.82 415.31,133.19 414.12,132.03 415.77,131.79" fill="#c8c8f0" stroke="#2424ac" stroke-width="1.0"/>
<polygon points="423.60,125.00 424.33,126.49 425.98,126.73 424.79,127.89 425.07,129.52 423.60,128.75 422.13,129.52 422.41,127.89 421.22,126.73 422.87,126.49" fill="#c8c8f0" stroke="#2424ac" stroke-width="1.0"/>
<polygon points="415.40,136.70 416.13,138.19 417.78,138.43 416.59,139.59 416.87,141.22 415.40,140.45 413.93,141.22 414.21,139.59 413.02,138.43 414.67,138.19" fill="#c8c8f0" stroke="#2424ac" stroke-width="1.0"/>
<polygon points="421.80,135.60 422.53,137.09 424.18,137.33 422.99,138.49 423.27,140.12 421.80,139.35 420.33,140.12 420.61,138.49 419.42,137.33 421.07,137.09" fill="#c8c8f0" stroke="#2424ac" stroke-width="1.0"/>
<polygon points="428.10,101.60 428.83,103.09 430.48,103.33 429.29,104.49 429.57,106.12 428.10,105.35 426.63,106.12 426.91,104.49 425.72,103.33 427.37,103.09" fill="#c8c8f0" stroke="#2424ac" stroke-width="1.0"/>
<polygon points="496.50,105.10 497.23,106.59 498.88,106.83 497.69,107.99 497.97,109.62 496.50,108.85 495.03,109.62 495.31,107.99 494.12,106.83 495.77,106.59" fill="#c8c8f0" stroke="#2424ac" stroke-width="1.0"/>
<polygon points="448.00,108.60 448.73,110.09 450.38,110.33 449.19,111.49 449.47,113.12 448.00,112.35 446.53,113.12 446.81,111.49 445.62,110.33 447.27,110.09" fill="#c8c8f0" stroke="#2424ac" stroke-width="1.0"/>
<polygon points="460.50,109.80 461.23,111.29 462.88,111.53 461.69,112.69 461.97,114.32 460.50,113.55 459.03,114.32 459.31,112.69 458.12,111.53 459.77,111.29" fill="#c8c8f0" stroke="#2424ac" stroke-width="1.0"/>
<polygon points="458.50,113.90 459.23,115.39 460.88,115.63 459.69,116.79 459.97,118.42 458.50,117.65 457.03,118.42 457.31,116.79 456.12,115.63 457.77,115.39" fill="#c8c8f0" stroke="#2424ac" stroke-width="1.0"/>
<polygon points="474.30,110.40 475.03,111.89 476.68,112.13 475.49,113.29 475.77,114.92 474.30,114.15 472.83,114.92 473.11,113.29 471.92,112.13 473.57,111.89" fill="#c8c8f0" stroke="#2424ac" stroke-width="1.0"/>
<polygon points="478.40,113.30 479.13,114.79 480.78,115.03 479.59,116.19 479.87,117.82 478.40,117.05 476.93,117.82 477.21,116.19 476.02,115.03 477.67,114.79" fill="#c8c8f0" stroke="#2424ac" stroke-width="1.0"/>
<polygon points="486.60,110.40 487.33,111.89 488.98,112.13 487.79,113.29 488.07,114.92 486.60,114.15 485.13,114.92 485.41,113.29 484.22,112.13 485.87,111.89" fill="#c8c8f0" stroke="#2424ac" stroke-width="1.0"/>
<polygon points="502.60,111.60 503.33,113.09 504.98,113.33 503.79,114.49 504.07,116.12 502.60,115.35 501.13,116.12 501.41,114.49 500.22,113.33 501.87,113.09" fill="#c8c8f0" stroke="#2424ac" stroke-width="1.0"/>
<polygon points="470.80,117.40 471.53,118.89 473.18,119.13 471.99,120.29 472.27,121.92 470.80,121.15 469.33,121.92 469.61,120.29 468.42,119.13 470.07,118.89" fill="#c8c8f0" stroke="#2424ac" stroke-width="1.0"/>
<polygon points="495.90,113.90 496.63,115.39 498.28,115.63 497.09,116.79 497.37,118.42 495.90,117.65 494.43,118.42 494.71,116.79 493.52,115.63 495.17,115.39" fill="#c8c8f0" stroke="#2424ac" stroke-width="1.0"/>
<polygon points="491.90,118.00 492.63,119.49 494.28,119.73 493.09,120.89 493.37,122.52 491.90,121.75 490.43,122.52 490.71,120.89 489.52,119.73 491.17,119.49" fill="#c8c8f0" stroke="#2424ac" stroke-width="1.0"/>
<polygon points="431.60,118.00 432.33,119.49 433.98,119.73 432.79,120.89 433.07,122.52 431.60,121.75 430.13,122.52 430.41,120.89 429.22,119.73 430.87,119.49" fill="#c8c8f0" stroke="#2424ac" stroke-width="1.0"/>
<polygon points="441.00,118.00 441.73,119.49 443.38,119.73 442.19,120.89 442.47,122.52 441.00,121.75 439.53,122.52 439.81,120.89 438.62,119.73 440.27,119.49" fill="#c8c8f0" stroke="#2424ac" stroke-width="1.0"/>
<polygon points="446.80,119.20 447.53,120.69 449.18,120.93 447.99,122.09 448.27,123.72 446.80,122.95 445.33,123.72 445.61,122.09 444.42,120.93 446.07,120.69" fill="#c8c8f0" stroke="#2424ac" stroke-width="1.0"/>
<polygon points="449.20,126.20 449.93,127.69 451.58,127.93 450.39,129.09 450.67,130.72 449.20,129.95 447.73,130.72 448.01,129.09 446.82,127.93 448.47,127.69" fill="#c8c8f0" stroke="#2424ac" stroke-width="1.0"/>
<polygon points="451.50,125.80 452.23,127.29 453.88,127.53 452.69,128.69 452.97,130.32 451.50,129.55 450.03,130.32 450.31,128.69 449.12,127.53 450.77,127.29" fill="#c8c8f0" stroke="#2424ac" stroke-width="1.0"/>
<polygon points="459.70,122.10 460.43,123.59 462.08,123.83 460.89,124.99 461.17,126.62 459.70,125.85 458.23,126.62 458.51,124.99 457.32,123.83 458.97,123.59" fill="#c8c8f0" stroke="#2424ac" stroke-width="1.0"/>
<polygon points="481.30,121.50 482.03,122.99 483.68,123.23 482.49,124.39 482.77,126.02 481.30,125.25 479.83,126.02 480.11,124.39 478.92,123.23 480.57,122.99" fill="#c8c8f0" stroke="#2424ac" stroke-width="1.0"/>
<polygon points="490.10,122.70 490.83,124.19 492.48,124.43 491.29,125.59 491.57,127.22 490.10,126.45 488.63,127.22 488.91,125.59 487.72,124.43 489.37,124.19" fill="#c8c8f0" stroke="#2424ac" stroke-width="1.0"/>
<polygon points="491.90,126.20 492.63,127.69 494.28,127.93 493.09,129.09 493.37,130.72 491.90,129.95 490.43,130.72 490.71,129.09 489.52,127.93 491.17,127.69" fill="#c8c8f0" stroke="#2424ac" stroke-width="1.0"/>
<polygon points="487.20,129.10 487.93,130.59 489.58,130.83 488.39,131.99 488.67,133.62 487.20,132.85 485.73,133.62 486.01,131.99 484.82,130.83 486.47,130.59" fill="#c8c8f0" stroke="#2424ac" stroke-width="1.0"/>
<polygon points="499.50,126.20 500.23,127.69 501.88,127.93 500.69,129.09 500.97,130.72 499.50,129.95 498.03,130.72 498.31,129.09 497.12,127.93 498.77,127.69" fill="#c8c8f0" stroke="#2424ac" stroke-width="1.0"/>
<polygon points="461.40,129.40 462.13,130.89 463.78,131.13 462.59,132.29 462.87,133.92 461.40,133.15 459.93,133.92 460.21,132.29 459.02,131.13 460.67,130.89" fill="#c8c8f0" stroke="#2424ac" stroke-width="1.0"/>
<polygon points="469.60,127.40 470.33,128.89 471.98,129.13 470.79,130.29 471.07,131.92 469.60,131.15 468.13,131.92 468.41,130.29 467.22,129.13 468.87,128.89" fill="#c8c8f0" stroke="#2424ac" stroke-width="1.0"/>
<polygon points="481.30,127.40 482.03,128.89 483.68,129.13 482.49,130.29 482.77,131.92 481.30,131.15 479.83,131.92 480.11,130.29 478.92,129.13 480.57,128.89" fill="#c8c8f0" stroke="#2424ac" stroke-width="1.0"/>
<polygon points="431.00,125.00 431.73,126.49 433.38,126.73 432.19,127.89 432.47,129.52 431.00,128.75 429.53,129.52 429.81,127.89 428.62,126.73 430.27,126.49" fill="#c8c8f0" stroke="#2424ac" stroke-width="1.0"/>
<polygon points="430.40,129.10 431.13,130.59 432.78,130.83 431.59,131.99 431.87,133.62 430.40,132.85 428.93,133.62 429.21,131.99 428.02,130.83 429.67,130.59" fill="#c8c8f0" stroke="#2424ac" stroke-width="1.0"/>
<polygon points="441.50,130.90 442.23,132.39 443.88,132.63 442.69,133.79 442.97,135.42 441.50,134.65 440.03,135.42 440.31,133.79 439.12,132.63 440.77,132.39" fill="#c8c8f0" stroke="#2424ac" stroke-width="1.0"/>
<polygon points="429.80,133.20 430.53,134.69 432.18,134.93 430.99,136.09 431.27,137.72 429.80,136.95 428.33,137.72 428.61,136.09 427.42,134.93 429.07,134.69" fill="#c8c8f0" stroke="#2424ac" stroke-width="1.0"/>
<polygon points="436.90,135.00 437.63,136.49 439.28,136.73 438.09,137.89 438.37,139.52 436.90,138.75 435.43,139.52 435.71,137.89 434.52,136.73 436.17,136.49" fill="#c8c8f0" stroke="#2424ac" stroke-width="1.0"/>
<polygon points="445.10,138.10 445.83,139.59 447.48,139.83 446.29,140.99 446.57,142.62 445.10,141.85 443.63,142.62 443.91,140.99 442.72,139.83 444.37,139.59" fill="#c8c8f0" stroke="#2424ac" stroke-width="1.0"/>
<polygon points="468.50,137.50 469.23,138.99 470.88,139.23 469.69,140.39 469.97,142.02 468.50,141.25 467.03,142.02 467.31,140.39 466.12,139.23 467.77,138.99" fill="#c8c8f0" stroke="#2424ac" stroke-width="1.0"/>
<polygon points="471.40,135.00 472.13,136.49 473.78,136.73 472.59,137.89 472.87,139.52 471.40,138.75 469.93,139.52 470.21,137.89 469.02,136.73 470.67,136.49" fill="#c8c8f0" stroke="#2424ac" stroke-width="1.0"/>
<polygon points="474.90,133.60 475.63,135.09 477.28,135.33 476.09,136.49 476.37,138.12 474.90,137.35 473.43,138.12 473.71,136.49 472.52,135.33 474.17,135.09" fill="#c8c8f0" stroke="#2424ac" stroke-width="1.0"/>
<polygon points="495.70,137.50 496.43,138.99 498.08,139.23 496.89,140.39 497.17,142.02 495.70,141.25 494.23,142.02 494.51,140.39 493.32,139.23 494.97,138.99" fill="#c8c8f0" stroke="#2424ac" stroke-width="1.0"/>
<polygon points="500.00,133.80 500.73,135.29 502.38,135.53 501.19,136.69 501.47,138.32 500.00,137.55 498.53,138.32 498.81,136.69 497.62,135.53 499.27,135.29" fill="#c8c8f0" stroke="#2424ac" stroke-width="1.0"/>
<polygon points="462.60,140.40 463.33,141.89 464.98,142.13 463.79,143.29 464.07,144.92 462.60,144.15 461.13,144.92 461.41,143.29 460.22,142.13 461.87,141.89" fill="#c8c8f0" stroke="#2424ac" stroke-width="1.0"/>
<polygon points="443.50,126.10 444.23,127.59 445.88,127.83 444.69,128.99 444.97,130.62 443.50,129.85 442.03,130.62 442.31,128.99 441.12,127.83 442.77,127.59" fill="#c8c8f0" stroke="#2424ac" stroke-width="1.0"/>
<polygon points="527.00,101.60 527.73,103.09 529.38,103.33 528.19,104.49 528.47,106.12 527.00,105.35 525.53,106.12 525.81,104.49 524.62,103.33 526.27,103.09" fill="#c8c8f0" stroke="#2424ac" stroke-width="1.0"/>
<polygon points="513.90,111.00 514.63,112.49 516.28,112.73 515.09,113.89 515.37,115.52 513.90,114.75 512.43,115.52 512.71,113.89 511.52,112.73 513.17,112.49" fill="#c8c8f0" stroke="#2424ac" stroke-width="1.0"/>
<polygon points="520.40,111.00 521.13,112.49 522.78,112.73 521.59,113.89 521.87,115.52 520.40,114.75 518.93,115.52 519.21,113.89 518.02,112.73 519.67,112.49" fill="#c8c8f0" stroke="#2424ac" stroke-width="1.0"/>
<polygon points="556.90,109.50 557.63,110.99 559.28,111.23 558.09,112.39 558.37,114.02 556.90,113.25 555.43,114.02 555.71,112.39 554.52,111.23 556.17,110.99" fill="#c8c8f0" stroke="#2424ac" stroke-width="1.0"/>
<polygon points="559.00,112.20 559.73,113.69 561.38,113.93 560.19,115.09 560.47,116.72 559.00,115.95 557.53,116.72 557.81,115.09 556.62,113.93 558.27,113.69" fill="#c8c8f0" stroke="#2424ac" stroke-width="1.0"/>
<polygon points="540.00,113.90 540.73,115.39 542.38,115.63 541.19,116.79 541.47,118.42 540.00,117.65 538.53,118.42 538.81,116.79 537.62,115.63 539.27,115.39" fill="#c8c8f0" stroke="#2424ac" stroke-width="1.0"/>
<polygon points="544.90,118.00 545.63,119.49 547.28,119.73 546.09,120.89 546.37,122.52 544.90,121.75 543.43,122.52 543.71,120.89 542.52,119.73 544.17,119.49" fill="#c8c8f0" stroke="#2424ac" stroke-width="1.0"/>
<polygon points="534.70,121.50 535.43,122.99 537.08,123.23 535.89,124.39 536.17,126.02 534.70,125.25 533.23,126.02 533.51,124.39 532.32,123.23 533.97,122.99" fill="#c8c8f0" stroke="#2424ac" stroke-width="1.0"/>
<polygon points="512.80,120.30 513.53,121.79 515.18,122.03 513.99,123.19 514.27,124.82 512.80,124.05 511.33,124.82 511.61,123.19 510.42,122.03 512.07,121.79" fill="#c8c8f0" stroke="#2424ac" stroke-width="1.0"/>
<polygon points="516.30,122.70 517.03,124.19 518.68,124.43 517.49,125.59 517.77,127.22 516.30,126.45 514.83,127.22 515.11,125.59 513.92,124.43 515.57,124.19" fill="#c8c8f0" stroke="#2424ac" stroke-width="1.0"/>
<polygon points="515.10,130.10 515.83,131.59 517.48,131.83 516.29,132.99 516.57,134.62 515.10,133.85 513.63,134.62 513.91,132.99 512.72,131.83 514.37,131.59" fill="#c8c8f0" stroke="#2424ac" stroke-width="1.0"/>
<polygon points="524.80,134.70 525.53,136.19 527.18,136.43 525.99,137.59 526.27,139.22 524.80,138.45 523.33,139.22 523.61,137.59 522.42,136.43 524.07,136.19" fill="#c8c8f0" stroke="#2424ac" stroke-width="1.0"/>
<polygon points="537.90,133.60 538.63,135.09 540.28,135.33 539.09,136.49 539.37,138.12 537.90,137.35 536.43,138.12 536.71,136.49 535.52,135.33 537.17,135.09" fill="#c8c8f0" stroke="#2424ac" stroke-width="1.0"/>
<polygon points="591.30,107.50 592.03,108.99 593.68,109.23 592.49,110.39 592.77,112.02 591.30,111.25 589.83,112.02 590.11,110.39 588.92,109.23 590.57,108.99" fill="#c8c8f0" stroke="#2424ac" stroke-width="1.0"/>
<polygon points="244.60,171.00 245.33,172.49 246.98,172.73 245.79,173.89 246.07,175.52 244.60,174.75 243.13,175.52 243.41,173.89 242.22,172.73 243.87,172.49" fill="#c8c8f0" stroke="#2424ac" stroke-width="1.0"/>
<polygon points="255.60,165.40 256.33,166.89 257.98,167.13 256.79,168.29 257.07,169.92 255.60,169.15 254.13,169.92 254.41,168.29 253.22,167.13 254.87,166.89" fill="#c8c8f0" stroke="#2424ac" stroke-width="1.0"/>
<polygon points="302.60,147.60 303.33,149.09 304.98,149.33 303.79,150.49 304.07,152.12 302.60,151.35 301.13,152.12 301.41,150.49 300.22,149.33 301.87,149.09" fill="#c8c8f0" stroke="#2424ac" stroke-width="1.0"/>
<polygon points="341.40,146.10 342.13,147.59 343.78,147.83 342.59,148.99 342.87,150.62 341.40,149.85 339.93,150.62 340.21,148.99 339.02,147.83 340.67,147.59" fill="#c8c8f0" stroke="#2424ac" stroke-width="1.0"/>
<polygon points="331.90,152.90 332.63,154.39 334.28,154.63 333.09,155.79 333.37,157.42 331.90,156.65 330.43,157.42 330.71,155.79 329.52,154.63 331.17,154.39" fill="#c8c8f0" stroke="#2424ac" stroke-width="1.0"/>
<polygon points="336.80,153.50 337.53,154.99 339.18,155.23 337.99,156.39 338.27,158.02 336.80,157.25 335.33,158.02 335.61,156.39 334.42,155.23 336.07,154.99" fill="#c8c8f0" stroke="#2424ac" stroke-width="1.0"/>
<polygon points="290.90,167.50 291.63,168.99 293.28,169.23 292.09,170.39 292.37,172.02 290.90,171.25 289.43,172.02 289.71,170.39 288.52,169.23 290.17,168.99" fill="#c8c8f0" stroke="#2424ac" stroke-width="1.0"/>
<polygon points="266.90,171.60 267.63,173.09 269.28,173.33 268.09,174.49 268.37,176.12 266.90,175.35 265.43,176.12 265.71,174.49 264.52,173.33 266.17,173.09" fill="#c8c8f0" stroke="#2424ac" stroke-width="1.0"/>
<polygon points="349.80,157.20 350.53,158.69 352.18,158.93 350.99,160.09 351.27,161.72 349.80,160.95 348.33,161.72 348.61,160.09 347.42,158.93 349.07,158.69" fill="#c8c8f0" stroke="#2424ac" stroke-width="1.0"/>
<polygon points="328.50,172.70 329.23,174.19 330.88,174.43 329.69,175.59 329.97,177.22 328.50,176.45 327.03,177.22 327.31,175.59 326.12,174.43 327.77,174.19" fill="#c8c8f0" stroke="#2424ac" stroke-width="1.0"/>
<polygon points="331.90,174.80 332.63,176.29 334.28,176.53 333.09,177.69 333.37,179.32 331.90,178.55 330.43,179.32 330.71,177.69 329.52,176.53 331.17,176.29" fill="#c8c8f0" stroke="#2424ac" stroke-width="1.0"/>
<polygon points="339.40,169.80 340.13,171.29 341.78,171.53 340.59,172.69 340.87,174.32 339.40,173.55 337.93,174.32 338.21,172.69 337.02,171.53 338.67,171.29" fill="#c8c8f0" stroke="#2424ac" stroke-width="1.0"/>
<polygon points="342.70,168.60 343.43,170.09 345.08,170.33 343.89,171.49 344.17,173.12 342.70,172.35 341.23,173.12 341.51,171.49 340.32,170.33 341.97,170.09" fill="#c8c8f0" stroke="#2424ac" stroke-width="1.0"/>
<polygon points="344.40,171.10 345.13,172.59 346.78,172.83 345.59,173.99 345.87,175.62 344.40,174.85 342.93,175.62 343.21,173.99 342.02,172.83 343.67,172.59" fill="#c8c8f0" stroke="#2424ac" stroke-width="1.0"/>
<polygon points="346.90,173.60 347.63,175.09 349.28,175.33 348.09,176.49 348.37,178.12 346.90,177.35 345.43,178.12 345.71,176.49 344.52,175.33 346.17,175.09" fill="#c8c8f0" stroke="#2424ac" stroke-width="1.0"/>
<polygon points="350.30,172.70 351.03,174.19 352.68,174.43 351.49,175.59 351.77,177.22 350.30,176.45 348.83,177.22 349.11,175.59 347.92,174.43 349.57,174.19" fill="#c8c8f0" stroke="#2424ac" stroke-width="1.0"/>
<polygon points="324.40,178.60 325.13,180.09 326.78,180.33 325.59,181.49 325.87,183.12 324.40,182.35 322.93,183.12 323.21,181.49 322.02,180.33 323.67,180.09" fill="#c8c8f0" stroke="#2424ac" stroke-width="1.0"/>
<polygon points="337.30,179.00 338.03,180.49 339.68,180.73 338.49,181.89 338.77,183.52 337.30,182.75 335.83,183.52 336.11,181.89 334.92,180.73 336.57,180.49" fill="#c8c8f0" stroke="#2424ac" stroke-width="1.0"/>
<polygon points="336.10,176.90 336.83,178.39 338.48,178.63 337.29,179.79 337.57,181.42 336.10,180.65 334.63,181.42 334.91,179.79 333.72,178.63 335.37,178.39" fill="#c8c8f0" stroke="#2424ac" stroke-width="1.0"/>
<polygon points="321.60,186.60 322.33,188.09 323.98,188.33 322.79,189.49 323.07,191.12 321.60,190.35 320.13,191.12 320.41,189.49 319.22,188.33 320.87,188.09" fill="#c8c8f0" stroke="#2424ac" stroke-width="1.0"/>
<polygon points="326.00,186.50 326.73,187.99 328.38,188.23 327.19,189.39 327.47,191.02 326.00,190.25 324.53,191.02 324.81,189.39 323.62,188.23 325.27,187.99" fill="#c8c8f0" stroke="#2424ac" stroke-width="1.0"/>
<polygon points="333.10,184.90 333.83,186.39 335.48,186.63 334.29,187.79 334.57,189.42 333.10,188.65 331.63,189.42 331.91,187.79 330.72,186.63 332.37,186.39" fill="#c8c8f0" stroke="#2424ac" stroke-width="1.0"/>
<polygon points="347.20,182.60 347.93,184.09 349.58,184.33 348.39,185.49 348.67,187.12 347.20,186.35 345.73,187.12 346.01,185.49 344.82,184.33 346.47,184.09" fill="#c8c8f0" stroke="#2424ac" stroke-width="1.0"/>
<polygon points="349.40,184.30 350.13,185.79 351.78,186.03 350.59,187.19 350.87,188.82 349.40,188.05 347.93,188.82 348.21,187.19 347.02,186.03 348.67,185.79" fill="#c8c8f0" stroke="#2424ac" stroke-width="1.0"/>
<polygon points="360.30,183.60 361.03,185.09 362.68,185.33 361.49,186.49 361.77,188.12 360.30,187.35 358.83,188.12 359.11,186.49 357.92,185.33 359.57,185.09" fill="#c8c8f0" stroke="#2424ac" stroke-width="1.0"/>
<polygon points="361.80,168.60 362.53,170.09 364.18,170.33 362.99,171.49 363.27,173.12 361.80,172.35 360.33,173.12 360.61,171.49 359.42,170.33 361.07,170.09" fill="#c8c8f0" stroke="#2424ac" stroke-width="1.0"/>
<polygon points="378.50,140.00 379.23,141.49 380.88,141.73 379.69,142.89 379.97,144.52 378.50,143.75 377.03,144.52 377.31,142.89 376.12,141.73 377.77,141.49" fill="#c8c8f0" stroke="#2424ac" stroke-width="1.0"/>
<polygon points="352.20,150.00 352.93,151.49 354.58,151.73 353.39,152.89 353.67,154.52 352.20,153.75 350.73,154.52 351.01,152.89 349.82,151.73 351.47,151.49" fill="#c8c8f0" stroke="#2424ac" stroke-width="1.0"/>
<polygon points="358.00,152.30 358.73,153.79 360.38,154.03 359.19,155.19 359.47,156.82 358.00,156.05 356.53,156.82 356.81,155.19 355.62,154.03 357.27,153.79" fill="#c8c8f0" stroke="#2424ac" stroke-width="1.0"/>
<polygon points="361.50,152.90 362.23,154.39 363.88,154.63 362.69,155.79 362.97,157.42 361.50,156.65 360.03,157.42 360.31,155.79 359.12,154.63 360.77,154.39" fill="#c8c8f0" stroke="#2424ac" stroke-width="1.0"/>
<polygon points="377.30,155.80 378.03,157.29 379.68,157.53 378.49,158.69 378.77,160.32 377.30,159.55 375.83,160.32 376.11,158.69 374.92,157.53 376.57,157.29" fill="#c8c8f0" stroke="#2424ac" stroke-width="1.0"/>
<polygon points="373.80,160.50 374.53,161.99 376.18,162.23 374.99,163.39 375.27,165.02 373.80,164.25 372.33,165.02 372.61,163.39 371.42,162.23 373.07,161.99" fill="#c8c8f0" stroke="#2424ac" stroke-width="1.0"/>
<polygon points="387.30,155.20 388.03,156.69 389.68,156.93 388.49,158.09 388.77,159.72 387.30,158.95 385.83,159.72 386.11,158.09 384.92,156.93 386.57,156.69" fill="#c8c8f0" stroke="#2424ac" stroke-width="1.0"/>
<polygon points="389.90,155.20 390.63,156.69 392.28,156.93 391.09,158.09 391.37,159.72 389.90,158.95 388.43,159.72 388.71,158.09 387.52,156.93 389.17,156.69" fill="#c8c8f0" stroke="#2424ac" stroke-width="1.0"/>
<polygon points="401.30,141.20 402.03,142.69 403.68,142.93 402.49,144.09 402.77,145.72 401.30,144.95 399.83,145.72 400.11,144.09 398.92,142.93 400.57,142.69" fill="#c8c8f0" stroke="#2424ac" stroke-width="1.0"/>
<polygon points="404.80,140.00 405.53,141.49 407.18,141.73 405.99,142.89 406.27,144.52 404.80,143.75 403.33,144.52 403.61,142.89 402.42,141.73 404.07,141.49" fill="#c8c8f0" stroke="#2424ac" stroke-width="1.0"/>
<polygon points="408.90,141.80 409.63,143.29 411.28,143.53 410.09,144.69 410.37,146.32 408.90,145.55 407.43,146.32 407.71,144.69 406.52,143.53 408.17,143.29" fill="#c8c8f0" stroke="#2424ac" stroke-width="1.0"/>
<polygon points="414.20,142.40 414.93,143.89 416.58,144.13 415.39,145.29 415.67,146.92 414.20,146.15 412.73,146.92 413.01,145.29 411.82,144.13 413.47,143.89" fill="#c8c8f0" stroke="#2424ac" stroke-width="1.0"/>
<polygon points="420.00,141.20 420.73,142.69 422.38,142.93 421.19,144.09 421.47,145.72 420.00,144.95 418.53,145.72 418.81,144.09 417.62,142.93 419.27,142.69" fill="#c8c8f0" stroke="#2424ac" stroke-width="1.0"/>
<polygon points="401.90,144.10 402.63,145.59 404.28,145.83 403.09,146.99 403.37,148.62 401.90,147.85 400.43,148.62 400.71,146.99 399.52,145.83 401.17,145.59" fill="#c8c8f0" stroke="#2424ac" stroke-width="1.0"/>
<polygon points="417.10,149.40 417.83,150.89 419.48,151.13 418.29,152.29 418.57,153.92 417.10,153.15 415.63,153.92 415.91,152.29 414.72,151.13 416.37,150.89" fill="#c8c8f0" stroke="#2424ac" stroke-width="1.0"/>
<polygon points="416.50,153.50 417.23,154.99 418.88,155.23 417.69,156.39 417.97,158.02 416.50,157.25 415.03,158.02 415.31,156.39 414.12,155.23 415.77,154.99" fill="#c8c8f0" stroke="#2424ac" stroke-width="1.0"/>
<polygon points="419.50,155.20 420.23,156.69 421.88,156.93 420.69,158.09 420.97,159.72 419.50,158.95 418.03,159.72 418.31,158.09 417.12,156.93 418.77,156.69" fill="#c8c8f0" stroke="#2424ac" stroke-width="1.0"/>
<polygon points="421.20,159.90 421.93,161.39 423.58,161.63 422.39,162.79 422.67,164.42 421.20,163.65 419.73,164.42 420.01,162.79 418.82,161.63 420.47,161.39" fill="#c8c8f0" stroke="#2424ac" stroke-width="1.0"/>
<polygon points="394.30,164.00 395.03,165.49 396.68,165.73 395.49,166.89 395.77,168.52 394.30,167.75 392.83,168.52 393.11,166.89 391.92,165.73 393.57,165.49" fill="#c8c8f0" stroke="#2424ac" stroke-width="1.0"/>
<polygon points="401.30,164.60 402.03,166.09 403.68,166.33 402.49,167.49 402.77,169.12 401.30,168.35 399.83,169.12 400.11,167.49 398.92,166.33 400.57,166.09" fill="#c8c8f0" stroke="#2424ac" stroke-width="1.0"/>
<polygon points="404.80,163.40 405.53,164.89 407.18,165.13 405.99,166.29 406.27,167.92 404.80,167.15 403.33,167.92 403.61,166.29 402.42,165.13 404.07,164.89" fill="#c8c8f0" stroke="#2424ac" stroke-width="1.0"/>
<polygon points="408.90,164.60 409.63,166.09 411.28,166.33 410.09,167.49 410.37,169.12 408.90,168.35 407.43,169.12 407.71,167.49 406.52,166.33 408.17,166.09" fill="#c8c8f0" stroke="#2424ac" stroke-width="1.0"/>
<polygon points="411.90,166.40 412.63,167.89 414.28,168.13 413.09,169.29 413.37,170.92 411.90,170.15 410.43,170.92 410.71,169.29 409.52,168.13 411.17,167.89" fill="#c8c8f0" stroke="#2424ac" stroke-width="1.0"/>
<polygon points="415.40,164.60 416.13,166.09 417.78,166.33 416.59,167.49 416.87,169.12 415.40,168.35 413.93,169.12 414.21,167.49 413.02,166.33 414.67,166.09" fill="#c8c8f0" stroke="#2424ac" stroke-width="1.0"/>
<polygon points="400.20,168.10 400.93,169.59 402.58,169.83 401.39,170.99 401.67,172.62 400.20,171.85 398.73,172.62 399.01,170.99 397.82,169.83 399.47,169.59" fill="#c8c8f0" stroke="#2424ac" stroke-width="1.0"/>
<polygon points="399.60,171.60 400.33,173.09 401.98,173.33 400.79,174.49 401.07,176.12 399.60,175.35 398.13,176.12 398.41,174.49 397.22,173.33 398.87,173.09" fill="#c8c8f0" stroke="#2424ac" stroke-width="1.0"/>
<polygon points="402.50,175.70 403.23,177.19 404.88,177.43 403.69,178.59 403.97,180.22 402.50,179.45 401.03,180.22 401.31,178.59 400.12,177.43 401.77,177.19" fill="#c8c8f0" stroke="#2424ac" stroke-width="1.0"/>
<polygon points="392.60,174.60 393.33,176.09 394.98,176.33 393.79,177.49 394.07,179.12 392.60,178.35 391.13,179.12 391.41,177.49 390.22,176.33 391.87,176.09" fill="#c8c8f0" stroke="#2424ac" stroke-width="1.0"/>
<polygon points="377.30,166.40 378.03,167.89 379.68,168.13 378.49,169.29 378.77,170.92 377.30,170.15 375.83,170.92 376.11,169.29 374.92,168.13 376.57,167.89" fill="#c8c8f0" stroke="#2424ac" stroke-width="1.0"/>
<polygon points="375.60,170.50 376.33,171.99 377.98,172.23 376.79,173.39 377.07,175.02 375.60,174.25 374.13,175.02 374.41,173.39 373.22,172.23 374.87,171.99" fill="#c8c8f0" stroke="#2424ac" stroke-width="1.0"/>
<polygon points="375.60,175.10 376.33,176.59 377.98,176.83 376.79,177.99 377.07,179.62 375.60,178.85 374.13,179.62 374.41,177.99 373.22,176.83 374.87,176.59" fill="#c8c8f0" stroke="#2424ac" stroke-width="1.0"/>
<polygon points="426.30,141.20 427.03,142.69 428.68,142.93 427.49,144.09 427.77,145.72 426.30,144.95 424.83,145.72 425.11,144.09 423.92,142.93 425.57,142.69" fill="#c8c8f0" stroke="#2424ac" stroke-width="1.0"/>
<polygon points="430.40,141.80 431.13,143.29 432.78,143.53 431.59,144.69 431.87,146.32 430.40,145.55 428.93,146.32 429.21,144.69 428.02,143.53 429.67,143.29" fill="#c8c8f0" stroke="#2424ac" stroke-width="1.0"/>
<polygon points="429.80,144.70 430.53,146.19 432.18,146.43 430.99,147.59 431.27,149.22 429.80,148.45 428.33,149.22 428.61,147.59 427.42,146.43 429.07,146.19" fill="#c8c8f0" stroke="#2424ac" stroke-width="1.0"/>
<polygon points="436.90,147.60 437.63,149.09 439.28,149.33 438.09,150.49 438.37,152.12 436.90,151.35 435.43,152.12 435.71,150.49 434.52,149.33 436.17,149.09" fill="#c8c8f0" stroke="#2424ac" stroke-width="1.0"/>
<polygon points="444.50,147.10 445.23,148.59 446.88,148.83 445.69,149.99 445.97,151.62 444.50,150.85 443.03,151.62 443.31,149.99 442.12,148.83 443.77,148.59" fill="#c8c8f0" stroke="#2424ac" stroke-width="1.0"/>
<polygon points="448.60,144.10 449.33,145.59 450.98,145.83 449.79,146.99 450.07,148.62 448.60,147.85 447.13,148.62 447.41,146.99 446.22,145.83 447.87,145.59" fill="#c8c8f0" stroke="#2424ac" stroke-width="1.0"/>
<polygon points="450.30,142.40 451.03,143.89 452.68,144.13 451.49,145.29 451.77,146.92 450.30,146.15 448.83,146.92 449.11,145.29 447.92,144.13 449.57,143.89" fill="#c8c8f0" stroke="#2424ac" stroke-width="1.0"/>
<polygon points="455.00,151.70 455.73,153.19 457.38,153.43 456.19,154.59 456.47,156.22 455.00,155.45 453.53,156.22 453.81,154.59 452.62,153.43 454.27,153.19" fill="#c8c8f0" stroke="#2424ac" stroke-width="1.0"/>
<polygon points="458.50,151.20 459.23,152.69 460.88,152.93 459.69,154.09 459.97,155.72 458.50,154.95 457.03,155.72 457.31,154.09 456.12,152.93 457.77,152.69" fill="#c8c8f0" stroke="#2424ac" stroke-width="1.0"/>
<polygon points="461.40,152.30 462.13,153.79 463.78,154.03 462.59,155.19 462.87,156.82 461.40,156.05 459.93,156.82 460.21,155.19 459.02,154.03 460.67,153.79" fill="#c8c8f0" stroke="#2424ac" stroke-width="1.0"/>
<polygon points="454.40,155.20 455.13,156.69 456.78,156.93 455.59,158.09 455.87,159.72 454.40,158.95 452.93,159.72 453.21,158.09 452.02,156.93 453.67,156.69" fill="#c8c8f0" stroke="#2424ac" stroke-width="1.0"/>
<polygon points="453.20,158.80 453.93,160.29 455.58,160.53 454.39,161.69 454.67,163.32 453.20,162.55 451.73,163.32 452.01,161.69 450.82,160.53 452.47,160.29" fill="#c8c8f0" stroke="#2424ac" stroke-width="1.0"/>
<polygon points="450.90,160.50 451.63,161.99 453.28,162.23 452.09,163.39 452.37,165.02 450.90,164.25 449.43,165.02 449.71,163.39 448.52,162.23 450.17,161.99" fill="#c8c8f0" stroke="#2424ac" stroke-width="1.0"/>
<polygon points="465.50,148.20 466.23,149.69 467.88,149.93 466.69,151.09 466.97,152.72 465.50,151.95 464.03,152.72 464.31,151.09 463.12,149.93 464.77,149.69" fill="#c8c8f0" stroke="#2424ac" stroke-width="1.0"/>
<polygon points="469.60,146.50 470.33,147.99 471.98,148.23 470.79,149.39 471.07,151.02 469.60,150.25 468.13,151.02 468.41,149.39 467.22,148.23 468.87,147.99" fill="#c8c8f0" stroke="#2424ac" stroke-width="1.0"/>
<polygon points="471.40,150.00 472.13,151.49 473.78,151.73 472.59,152.89 472.87,154.52 471.40,153.75 469.93,154.52 470.21,152.89 469.02,151.73 470.67,151.49" fill="#c8c8f0" stroke="#2424ac" stroke-width="1.0"/>
<polygon points="464.40,159.90 465.13,161.39 466.78,161.63 465.59,162.79 465.87,164.42 464.40,163.65 462.93,164.42 463.21,162.79 462.02,161.63 463.67,161.39" fill="#c8c8f0" stroke="#2424ac" stroke-width="1.0"/>
<polygon points="487.80,160.50 488.53,161.99 490.18,162.23 488.99,163.39 489.27,165.02 487.80,164.25 486.33,165.02 486.61,163.39 485.42,162.23 487.07,161.99" fill="#c8c8f0" stroke="#2424ac" stroke-width="1.0"/>
<polygon points="476.90,170.20 477.63,171.69 479.28,171.93 478.09,173.09 478.37,174.72 476.90,173.95 475.43,174.72 475.71,173.09 474.52,171.93 476.17,171.69" fill="#c8c8f0" stroke="#2424ac" stroke-width="1.0"/>
<polygon points="430.40,169.90 431.13,171.39 432.78,171.63 431.59,172.79 431.87,174.42 430.40,173.65 428.93,174.42 429.21,172.79 428.02,171.63 429.67,171.39" fill="#c8c8f0" stroke="#2424ac" stroke-width="1.0"/>
<polygon points="439.20,168.70 439.93,170.19 441.58,170.43 440.39,171.59 440.67,173.22 439.20,172.45 437.73,173.22 438.01,171.59 436.82,170.43 438.47,170.19" fill="#c8c8f0" stroke="#2424ac" stroke-width="1.0"/>
<polygon points="440.40,175.70 441.13,177.19 442.78,177.43 441.59,178.59 441.87,180.22 440.40,179.45 438.93,180.22 439.21,178.59 438.02,177.43 439.67,177.19" fill="#c8c8f0" stroke="#2424ac" stroke-width="1.0"/>
<polygon points="506.90,145.30 507.63,146.79 509.28,147.03 508.09,148.19 508.37,149.82 506.90,149.05 505.43,149.82 505.71,148.19 504.52,147.03 506.17,146.79" fill="#c8c8f0" stroke="#2424ac" stroke-width="1.0"/>
<polygon points="525.40,141.80 526.13,143.29 527.78,143.53 526.59,144.69 526.87,146.32 525.40,145.55 523.93,146.32 524.21,144.69 523.02,143.53 524.67,143.29" fill="#c8c8f0" stroke="#2424ac" stroke-width="1.0"/>
<polygon points="525.60,145.30 526.33,146.79 527.98,147.03 526.79,148.19 527.07,149.82 525.60,149.05 524.13,149.82 524.41,148.19 523.22,147.03 524.87,146.79" fill="#c8c8f0" stroke="#2424ac" stroke-width="1.0"/>
<polygon points="548.50,141.80 549.23,143.29 550.88,143.53 549.69,144.69 549.97,146.32 548.50,145.55 547.03,146.32 547.31,144.69 546.12,143.53 547.77,143.29" fill="#c8c8f0" stroke="#2424ac" stroke-width="1.0"/>
<polygon points="552.00,142.40 552.73,143.89 554.38,144.13 553.19,145.29 553.47,146.92 552.00,146.15 550.53,146.92 550.81,145.29 549.62,144.13 551.27,143.89" fill="#c8c8f0" stroke="#2424ac" stroke-width="1.0"/>
<polygon points="556.10,141.80 556.83,143.29 558.48,143.53 557.29,144.69 557.57,146.32 556.10,145.55 554.63,146.32 554.91,144.69 553.72,143.53 555.37,143.29" fill="#c8c8f0" stroke="#2424ac" stroke-width="1.0"/>
<polygon points="515.10,158.20 515.83,159.69 517.48,159.93 516.29,161.09 516.57,162.72 515.10,161.95 513.63,162.72 513.91,161.09 512.72,159.93 514.37,159.69" fill="#c8c8f0" stroke="#2424ac" stroke-width="1.0"/>
<polygon points="214.70,186.10 215.43,187.59 217.08,187.83 215.89,188.99 216.17,190.62 214.70,189.85 213.23,190.62 213.51,188.99 212.32,187.83 213.97,187.59" fill="#c8c8f0" stroke="#2424ac" stroke-width="1.0"/>
<polygon points="226.40,184.70 227.13,186.19 228.78,186.43 227.59,187.59 227.87,189.22 226.40,188.45 224.93,189.22 225.21,187.59 224.02,186.43 225.67,186.19" fill="#c8c8f0" stroke="#2424ac" stroke-width="1.0"/>
<polygon points="192.00,205.20 192.73,206.69 194.38,206.93 193.19,208.09 193.47,209.72 192.00,208.95 190.53,209.72 190.81,208.09 189.62,206.93 191.27,206.69" fill="#c8c8f0" stroke="#2424ac" stroke-width="1.0"/>
<polygon points="226.70,211.00 227.43,212.49 229.08,212.73 227.89,213.89 228.17,215.52 226.70,214.75 225.23,215.52 225.51,213.89 224.32,212.73 225.97,212.49" fill="#c8c8f0" stroke="#2424ac" stroke-width="1.0"/>
<polygon points="244.80,208.10 245.53,209.59 247.18,209.83 245.99,210.99 246.27,212.62 244.80,211.85 243.33,212.62 243.61,210.99 242.42,209.83 244.07,209.59" fill="#c8c8f0" stroke="#2424ac" stroke-width="1.0"/>
<polygon points="264.20,183.50 264.93,184.99 266.58,185.23 265.39,186.39 265.67,188.02 264.20,187.25 262.73,188.02 263.01,186.39 261.82,185.23 263.47,184.99" fill="#c8c8f0" stroke="#2424ac" stroke-width="1.0"/>
<polygon points="264.20,186.10 264.93,187.59 266.58,187.83 265.39,188.99 265.67,190.62 264.20,189.85 262.73,190.62 263.01,188.99 261.82,187.83 263.47,187.59" fill="#c8c8f0" stroke="#2424ac" stroke-width="1.0"/>
<polygon points="265.10,188.60 265.83,190.09 267.48,190.33 266.29,191.49 266.57,193.12 265.10,192.35 263.63,193.12 263.91,191.49 262.72,190.33 264.37,190.09" fill="#c8c8f0" stroke="#2424ac" stroke-width="1.0"/>
<polygon points="250.90,192.70 251.63,194.19 253.28,194.43 252.09,195.59 252.37,197.22 250.90,196.45 249.43,197.22 249.71,195.59 248.52,194.43 250.17,194.19" fill="#c8c8f0" stroke="#2424ac" stroke-width="1.0"/>
<polygon points="253.00,198.20 253.73,199.69 255.38,199.93 254.19,201.09 254.47,202.72 253.00,201.95 251.53,202.72 251.81,201.09 250.62,199.93 252.27,199.69" fill="#c8c8f0" stroke="#2424ac" stroke-width="1.0"/>
<polygon points="257.50,192.70 258.23,194.19 259.88,194.43 258.69,195.59 258.97,197.22 257.50,196.45 256.03,197.22 256.31,195.59 255.12,194.43 256.77,194.19" fill="#c8c8f0" stroke="#2424ac" stroke-width="1.0"/>
<polygon points="264.20,195.70 264.93,197.19 266.58,197.43 265.39,198.59 265.67,200.22 264.20,199.45 262.73,200.22 263.01,198.59 261.82,197.43 263.47,197.19" fill="#c8c8f0" stroke="#2424ac" stroke-width="1.0"/>
<polygon points="260.10,199.80 260.83,201.29 262.48,201.53 261.29,202.69 261.57,204.32 260.10,203.55 258.63,204.32 258.91,202.69 257.72,201.53 259.37,201.29" fill="#c8c8f0" stroke="#2424ac" stroke-width="1.0"/>
<polygon points="263.80,199.40 264.53,200.89 266.18,201.13 264.99,202.29 265.27,203.92 263.80,203.15 262.33,203.92 262.61,202.29 261.42,201.13 263.07,200.89" fill="#c8c8f0" stroke="#2424ac" stroke-width="1.0"/>
<polygon points="264.20,202.80 264.93,204.29 266.58,204.53 265.39,205.69 265.67,207.32 264.20,206.55 262.73,207.32 263.01,205.69 261.82,204.53 263.47,204.29" fill="#c8c8f0" stroke="#2424ac" stroke-width="1.0"/>
<polygon points="276.40,194.00 277.13,195.49 278.78,195.73 277.59,196.89 277.87,198.52 276.40,197.75 274.93,198.52 275.21,196.89 274.02,195.73 275.67,195.49" fill="#c8c8f0" stroke="#2424ac" stroke-width="1.0"/>
<polygon points="286.00,183.10 286.73,184.59 288.38,184.83 287.19,185.99 287.47,187.62 286.00,186.85 284.53,187.62 284.81,185.99 283.62,184.83 285.27,184.59" fill="#c8c8f0" stroke="#2424ac" stroke-width="1.0"/>
<polygon points="285.10,202.80 285.83,204.29 287.48,204.53 286.29,205.69 286.57,207.32 285.10,206.55 283.63,207.32 283.91,205.69 282.72,204.53 284.37,204.29" fill="#c8c8f0" stroke="#2424ac" stroke-width="1.0"/>
<polygon points="281.80,205.30 282.53,206.79 284.18,207.03 282.99,208.19 283.27,209.82 281.80,209.05 280.33,209.82 280.61,208.19 279.42,207.03 281.07,206.79" fill="#c8c8f0" stroke="#2424ac" stroke-width="1.0"/>
<polygon points="292.10,188.80 292.83,190.29 294.48,190.53 293.29,191.69 293.57,193.32 292.10,192.55 290.63,193.32 290.91,191.69 289.72,190.53 291.37,190.29" fill="#c8c8f0" stroke="#2424ac" stroke-width="1.0"/>
<polygon points="299.10,194.70 299.83,196.19 301.48,196.43 300.29,197.59 300.57,199.22 299.10,198.45 297.63,199.22 297.91,197.59 296.72,196.43 298.37,196.19" fill="#c8c8f0" stroke="#2424ac" stroke-width="1.0"/>
<polygon points="299.70,198.20 300.43,199.69 302.08,199.93 300.89,201.09 301.17,202.72 299.70,201.95 298.23,202.72 298.51,201.09 297.32,199.93 298.97,199.69" fill="#c8c8f0" stroke="#2424ac" stroke-width="1.0"/>
<polygon points="312.00,186.50 312.73,187.99 314.38,188.23 313.19,189.39 313.47,191.02 312.00,190.25 310.53,191.02 310.81,189.39 309.62,188.23 311.27,187.99" fill="#c8c8f0" stroke="#2424ac" stroke-width="1.0"/>
<polygon points="312.00,189.40 312.73,190.89 314.38,191.13 313.19,192.29 313.47,193.92 312.00,193.15 310.53,193.92 310.81,192.29 309.62,191.13 311.27,190.89" fill="#c8c8f0" stroke="#2424ac" stroke-width="1.0"/>
<polygon points="327.20,188.20 327.93,189.69 329.58,189.93 328.39,191.09 328.67,192.72 327.20,191.95 325.73,192.72 326.01,191.09 324.82,189.93 326.47,189.69" fill="#c8c8f0" stroke="#2424ac" stroke-width="1.0"/>
<polygon points="321.90,194.10 322.63,195.59 324.28,195.83 323.09,196.99 323.37,198.62 321.90,197.85 320.43,198.62 320.71,196.99 319.52,195.83 321.17,195.59" fill="#c8c8f0" stroke="#2424ac" stroke-width="1.0"/>
<polygon points="266.30,212.20 267.03,213.69 268.68,213.93 267.49,215.09 267.77,216.72 266.30,215.95 264.83,216.72 265.11,215.09 263.92,213.93 265.57,213.69" fill="#c8c8f0" stroke="#2424ac" stroke-width="1.0"/>
<polygon points="279.80,207.50 280.53,208.99 282.18,209.23 280.99,210.39 281.27,212.02 279.80,211.25 278.33,212.02 278.61,210.39 277.42,209.23 279.07,208.99" fill="#c8c8f0" stroke="#2424ac" stroke-width="1.0"/>
<polygon points="282.10,212.80 282.83,214.29 284.48,214.53 283.29,215.69 283.57,217.32 282.10,216.55 280.63,217.32 280.91,215.69 279.72,214.53 281.37,214.29" fill="#c8c8f0" stroke="#2424ac" stroke-width="1.0"/>
<polygon points="297.90,206.40 298.63,207.89 300.28,208.13 299.09,209.29 299.37,210.92 297.90,210.15 296.43,210.92 296.71,209.29 295.52,208.13 297.17,207.89" fill="#c8c8f0" stroke="#2424ac" stroke-width="1.0"/>
<polygon points="317.80,202.90 318.53,204.39 320.18,204.63 318.99,205.79 319.27,207.42 317.80,206.65 316.33,207.42 316.61,205.79 315.42,204.63 317.07,204.39" fill="#c8c8f0" stroke="#2424ac" stroke-width="1.0"/>
<polygon points="326.00,204.00 326.73,205.49 328.38,205.73 327.19,206.89 327.47,208.52 326.00,207.75 324.53,208.52 324.81,206.89 323.62,205.73 325.27,205.49" fill="#c8c8f0" stroke="#2424ac" stroke-width="1.0"/>
<polygon points="307.90,208.70 308.63,210.19 310.28,210.43 309.09,211.59 309.37,213.22 307.90,212.45 306.43,213.22 306.71,211.59 305.52,210.43 307.17,210.19" fill="#c8c8f0" stroke="#2424ac" stroke-width="1.0"/>
<polygon points="309.60,212.20 310.33,213.69 311.98,213.93 310.79,215.09 311.07,216.72 309.60,215.95 308.13,216.72 308.41,215.09 307.22,213.93 308.87,213.69" fill="#c8c8f0" stroke="#2424ac" stroke-width="1.0"/>
<polygon points="329.50,211.60 330.23,213.09 331.88,213.33 330.69,214.49 330.97,216.12 329.50,215.35 328.03,216.12 328.31,214.49 327.12,213.33 328.77,213.09" fill="#c8c8f0" stroke="#2424ac" stroke-width="1.0"/>
<polygon points="338.90,212.20 339.63,213.69 341.28,213.93 340.09,215.09 340.37,216.72 338.90,215.95 337.43,216.72 337.71,215.09 336.52,213.93 338.17,213.69" fill="#c8c8f0" stroke="#2424ac" stroke-width="1.0"/>
<polygon points="289.70,216.90 290.43,218.39 292.08,218.63 290.89,219.79 291.17,221.42 289.70,220.65 288.23,221.42 288.51,219.79 287.32,218.63 288.97,218.39" fill="#c8c8f0" stroke="#2424ac" stroke-width="1.0"/>
<polygon points="295.00,218.10 295.73,219.59 297.38,219.83 296.19,220.99 296.47,222.62 295.00,221.85 293.53,222.62 293.81,220.99 292.62,219.83 294.27,219.59" fill="#c8c8f0" stroke="#2424ac" stroke-width="1.0"/>
<polygon points="344.40,187.10 345.13,188.59 346.78,188.83 345.59,189.99 345.87,191.62 344.40,190.85 342.93,191.62 343.21,189.99 342.02,188.83 343.67,188.59" fill="#c8c8f0" stroke="#2424ac" stroke-width="1.0"/>
<polygon points="345.80,191.70 346.53,193.19 348.18,193.43 346.99,194.59 347.27,196.22 345.80,195.45 344.33,196.22 344.61,194.59 343.42,193.43 345.07,193.19" fill="#c8c8f0" stroke="#2424ac" stroke-width="1.0"/>
<polygon points="359.80,187.60 360.53,189.09 362.18,189.33 360.99,190.49 361.27,192.12 359.80,191.35 358.33,192.12 358.61,190.49 357.42,189.33 359.07,189.09" fill="#c8c8f0" stroke="#2424ac" stroke-width="1.0"/>
<polygon points="357.50,190.60 358.23,192.09 359.88,192.33 358.69,193.49 358.97,195.12 357.50,194.35 356.03,195.12 356.31,193.49 355.12,192.33 356.77,192.09" fill="#c8c8f0" stroke="#2424ac" stroke-width="1.0"/>
<polygon points="368.00,182.40 368.73,183.89 370.38,184.13 369.19,185.29 369.47,186.92 368.00,186.15 366.53,186.92 366.81,185.29 365.62,184.13 367.27,183.89" fill="#c8c8f0" stroke="#2424ac" stroke-width="1.0"/>
<polygon points="373.20,189.40 373.93,190.89 375.58,191.13 374.39,192.29 374.67,193.92 373.20,193.15 371.73,193.92 372.01,192.29 370.82,191.13 372.47,190.89" fill="#c8c8f0" stroke="#2424ac" stroke-width="1.0"/>
<polygon points="379.10,187.10 379.83,188.59 381.48,188.83 380.29,189.99 380.57,191.62 379.10,190.85 377.63,191.62 377.91,189.99 376.72,188.83 378.37,188.59" fill="#c8c8f0" stroke="#2424ac" stroke-width="1.0"/>
<polygon points="368.60,193.50 369.33,194.99 370.98,195.23 369.79,196.39 370.07,198.02 368.60,197.25 367.13,198.02 367.41,196.39 366.22,195.23 367.87,194.99" fill="#c8c8f0" stroke="#2424ac" stroke-width="1.0"/>
<polygon points="378.50,195.20 379.23,196.69 380.88,196.93 379.69,198.09 379.97,199.72 378.50,198.95 377.03,199.72 377.31,198.09 376.12,196.93 377.77,196.69" fill="#c8c8f0" stroke="#2424ac" stroke-width="1.0"/>
<polygon points="388.50,192.90 389.23,194.39 390.88,194.63 389.69,195.79 389.97,197.42 388.50,196.65 387.03,197.42 387.31,195.79 386.12,194.63 387.77,194.39" fill="#c8c8f0" stroke="#2424ac" stroke-width="1.0"/>
<polygon points="396.10,192.30 396.83,193.79 398.48,194.03 397.29,195.19 397.57,196.82 396.10,196.05 394.63,196.82 394.91,195.19 393.72,194.03 395.37,193.79" fill="#c8c8f0" stroke="#2424ac" stroke-width="1.0"/>
<polygon points="395.50,197.00 396.23,198.49 397.88,198.73 396.69,199.89 396.97,201.52 395.50,200.75 394.03,201.52 394.31,199.89 393.12,198.73 394.77,198.49" fill="#c8c8f0" stroke="#2424ac" stroke-width="1.0"/>
<polygon points="353.90,199.30 354.63,200.79 356.28,201.03 355.09,202.19 355.37,203.82 353.90,203.05 352.43,203.82 352.71,202.19 351.52,201.03 353.17,200.79" fill="#c8c8f0" stroke="#2424ac" stroke-width="1.0"/>
<polygon points="361.00,198.20 361.73,199.69 363.38,199.93 362.19,201.09 362.47,202.72 361.00,201.95 359.53,202.72 359.81,201.09 358.62,199.93 360.27,199.69" fill="#c8c8f0" stroke="#2424ac" stroke-width="1.0"/>
<polygon points="358.60,202.30 359.33,203.79 360.98,204.03 359.79,205.19 360.07,206.82 358.60,206.05 357.13,206.82 357.41,205.19 356.22,204.03 357.87,203.79" fill="#c8c8f0" stroke="#2424ac" stroke-width="1.0"/>
<polygon points="373.80,200.50 374.53,201.99 376.18,202.23 374.99,203.39 375.27,205.02 373.80,204.25 372.33,205.02 372.61,203.39 371.42,202.23 373.07,201.99" fill="#c8c8f0" stroke="#2424ac" stroke-width="1.0"/>
<polygon points="383.80,202.30 384.53,203.79 386.18,204.03 384.99,205.19 385.27,206.82 383.80,206.05 382.33,206.82 382.61,205.19 381.42,204.03 383.07,203.79" fill="#c8c8f0" stroke="#2424ac" stroke-width="1.0"/>
<polygon points="396.90,207.50 397.63,208.99 399.28,209.23 398.09,210.39 398.37,212.02 396.90,211.25 395.43,212.02 395.71,210.39 394.52,209.23 396.17,208.99" fill="#c8c8f0" stroke="#2424ac" stroke-width="1.0"/>
<polygon points="379.10,214.90 379.83,216.39 381.48,216.63 380.29,217.79 380.57,219.42 379.10,218.65 377.63,219.42 377.91,217.79 376.72,216.63 378.37,216.39" fill="#c8c8f0" stroke="#2424ac" stroke-width="1.0"/>
<polygon points="353.90,211.60 354.63,213.09 356.28,213.33 355.09,214.49 355.37,216.12 353.90,215.35 352.43,216.12 352.71,214.49 351.52,213.33 353.17,213.09" fill="#c8c8f0" stroke="#2424ac" stroke-width="1.0"/>
<polygon points="352.20,213.40 352.93,214.89 354.58,215.13 353.39,216.29 353.67,217.92 352.20,217.15 350.73,217.92 351.01,216.29 349.82,215.13 351.47,214.89" fill="#c8c8f0" stroke="#2424ac" stroke-width="1.0"/>
<polygon points="345.20,216.90 345.93,218.39 347.58,218.63 346.39,219.79 346.67,221.42 345.20,220.65 343.73,221.42 344.01,219.79 342.82,218.63 344.47,218.39" fill="#c8c8f0" stroke="#2424ac" stroke-width="1.0"/>
<polygon points="418.90,187.10 419.63,188.59 421.28,188.83 420.09,189.99 420.37,191.62 418.90,190.85 417.43,191.62 417.71,189.99 416.52,188.83 418.17,188.59" fill="#c8c8f0" stroke="#2424ac" stroke-width="1.0"/>
<polygon points="421.20,189.40 421.93,190.89 423.58,191.13 422.39,192.29 422.67,193.92 421.20,193.15 419.73,193.92 420.01,192.29 418.82,191.13 420.47,190.89" fill="#c8c8f0" stroke="#2424ac" stroke-width="1.0"/>
<polygon points="361.50,230.30 362.23,231.79 363.88,232.03 362.69,233.19 362.97,234.82 361.50,234.05 360.03,234.82 360.31,233.19 359.12,232.03 360.77,231.79" fill="#c8c8f0" stroke="#2424ac" stroke-width="1.0"/>
<polygon points="205.10,220.10 205.83,221.59 207.48,221.83 206.29,222.99 206.57,224.62 205.10,223.85 203.63,224.62 203.91,222.99 202.72,221.83 204.37,221.59" fill="#c8c8f0" stroke="#2424ac" stroke-width="1.0"/>
<polygon points="236.60,223.30 237.33,224.79 238.98,225.03 237.79,226.19 238.07,227.82 236.60,227.05 235.13,227.82 235.41,226.19 234.22,225.03 235.87,224.79" fill="#c8c8f0" stroke="#2424ac" stroke-width="1.0"/>
<polygon points="241.30,222.70 242.03,224.19 243.68,224.43 242.49,225.59 242.77,227.22 241.30,226.45 239.83,227.22 240.11,225.59 238.92,224.43 240.57,224.19" fill="#c8c8f0" stroke="#2424ac" stroke-width="1.0"/>
<polygon points="239.00,228.00 239.73,229.49 241.38,229.73 240.19,230.89 240.47,232.52 239.00,231.75 237.53,232.52 237.81,230.89 236.62,229.73 238.27,229.49" fill="#c8c8f0" stroke="#2424ac" stroke-width="1.0"/>
<polygon points="249.50,223.30 250.23,224.79 251.88,225.03 250.69,226.19 250.97,227.82 249.50,227.05 248.03,227.82 248.31,226.19 247.12,225.03 248.77,224.79" fill="#c8c8f0" stroke="#2424ac" stroke-width="1.0"/>
<polygon points="246.00,216.90 246.73,218.39 248.38,218.63 247.19,219.79 247.47,221.42 246.00,220.65 244.53,221.42 244.81,219.79 243.62,218.63 245.27,218.39" fill="#c8c8f0" stroke="#2424ac" stroke-width="1.0"/>
<polygon points="251.90,217.50 252.63,218.99 254.28,219.23 253.09,220.39 253.37,222.02 251.90,221.25 250.43,222.02 250.71,220.39 249.52,219.23 251.17,218.99" fill="#c8c8f0" stroke="#2424ac" stroke-width="1.0"/>
<polygon points="254.80,220.40 255.53,221.89 257.18,222.13 255.99,223.29 256.27,224.92 254.80,224.15 253.33,224.92 253.61,223.29 252.42,222.13 254.07,221.89" fill="#c8c8f0" stroke="#2424ac" stroke-width="1.0"/>
<polygon points="226.40,233.00 227.13,234.49 228.78,234.73 227.59,235.89 227.87,237.52 226.40,236.75 224.93,237.52 225.21,235.89 224.02,234.73 225.67,234.49" fill="#c8c8f0" stroke="#2424ac" stroke-width="1.0"/>
<polygon points="244.80,237.30 245.53,238.79 247.18,239.03 245.99,240.19 246.27,241.82 244.80,241.05 243.33,241.82 243.61,240.19 242.42,239.03 244.07,238.79" fill="#c8c8f0" stroke="#2424ac" stroke-width="1.0"/>
<polygon points="254.20,237.30 254.93,238.79 256.58,239.03 255.39,240.19 255.67,241.82 254.20,241.05 252.73,241.82 253.01,240.19 251.82,239.03 253.47,238.79" fill="#c8c8f0" stroke="#2424ac" stroke-width="1.0"/>
<polygon points="262.60,234.40 263.33,235.89 264.98,236.13 263.79,237.29 264.07,238.92 262.60,238.15 261.13,238.92 261.41,237.29 260.22,236.13 261.87,235.89" fill="#c8c8f0" stroke="#2424ac" stroke-width="1.0"/>
<polygon points="261.80,240.30 262.53,241.79 264.18,242.03 262.99,243.19 263.27,244.82 261.80,244.05 260.33,244.82 260.61,243.19 259.42,242.03 261.07,241.79" fill="#c8c8f0" stroke="#2424ac" stroke-width="1.0"/>
<polygon points="198.30,241.40 199.03,242.89 200.68,243.13 199.49,244.29 199.77,245.92 198.30,245.15 196.83,245.92 197.11,244.29 195.92,243.13 197.57,242.89" fill="#c8c8f0" stroke="#2424ac" stroke-width="1.0"/>
<polygon points="215.60,244.00 216.33,245.49 217.98,245.73 216.79,246.89 217.07,248.52 215.60,247.75 214.13,248.52 214.41,246.89 213.22,245.73 214.87,245.49" fill="#c8c8f0" stroke="#2424ac" stroke-width="1.0"/>
<polygon points="194.50,252.90 195.23,254.39 196.88,254.63 195.69,255.79 195.97,257.42 194.50,256.65 193.03,257.42 193.31,255.79 192.12,254.63 193.77,254.39" fill="#c8c8f0" stroke="#2424ac" stroke-width="1.0"/>
<polygon points="245.10,254.30 245.83,255.79 247.48,256.03 246.29,257.19 246.57,258.82 245.10,258.05 243.63,258.82 243.91,257.19 242.72,256.03 244.37,255.79" fill="#c8c8f0" stroke="#2424ac" stroke-width="1.0"/>
<polygon points="285.10,221.50 285.83,222.99 287.48,223.23 286.29,224.39 286.57,226.02 285.10,225.25 283.63,226.02 283.91,224.39 282.72,223.23 284.37,222.99" fill="#c8c8f0" stroke="#2424ac" stroke-width="1.0"/>
<polygon points="296.20,222.70 296.93,224.19 298.58,224.43 297.39,225.59 297.67,227.22 296.20,226.45 294.73,227.22 295.01,225.59 293.82,224.43 295.47,224.19" fill="#c8c8f0" stroke="#2424ac" stroke-width="1.0"/>
<polygon points="300.30,221.50 301.03,222.99 302.68,223.23 301.49,224.39 301.77,226.02 300.30,225.25 298.83,226.02 299.11,224.39 297.92,223.23 299.57,222.99" fill="#c8c8f0" stroke="#2424ac" stroke-width="1.0"/>
<polygon points="276.90,226.80 277.63,228.29 279.28,228.53 278.09,229.69 278.37,231.32 276.90,230.55 275.43,231.32 275.71,229.69 274.52,228.53 276.17,228.29" fill="#c8c8f0" stroke="#2424ac" stroke-width="1.0"/>
<polygon points="265.80,230.90 266.53,232.39 268.18,232.63 266.99,233.79 267.27,235.42 265.80,234.65 264.33,235.42 264.61,233.79 263.42,232.63 265.07,232.39" fill="#c8c8f0" stroke="#2424ac" stroke-width="1.0"/>
<polygon points="271.60,231.50 272.33,232.99 273.98,233.23 272.79,234.39 273.07,236.02 271.60,235.25 270.13,236.02 270.41,234.39 269.22,233.23 270.87,232.99" fill="#c8c8f0" stroke="#2424ac" stroke-width="1.0"/>
<polygon points="272.80,233.20 273.53,234.69 275.18,234.93 273.99,236.09 274.27,237.72 272.80,236.95 271.33,237.72 271.61,236.09 270.42,234.93 272.07,234.69" fill="#c8c8f0" stroke="#2424ac" stroke-width="1.0"/>
<polygon points="271.60,236.20 272.33,237.69 273.98,237.93 272.79,239.09 273.07,240.72 271.60,239.95 270.13,240.72 270.41,239.09 269.22,237.93 270.87,237.69" fill="#c8c8f0" stroke="#2424ac" stroke-width="1.0"/>
<polygon points="280.40,236.50 281.13,237.99 282.78,238.23 281.59,239.39 281.87,241.02 280.40,240.25 278.93,241.02 279.21,239.39 278.02,238.23 279.67,237.99" fill="#c8c8f0" stroke="#2424ac" stroke-width="1.0"/>
<polygon points="265.20,240.90 265.93,242.39 267.58,242.63 266.39,243.79 266.67,245.42 265.20,244.65 263.73,245.42 264.01,243.79 262.82,242.63 264.47,242.39" fill="#c8c8f0" stroke="#2424ac" stroke-width="1.0"/>
<polygon points="267.50,243.20 268.23,244.69 269.88,244.93 268.69,246.09 268.97,247.72 267.50,246.95 266.03,247.72 266.31,246.09 265.12,244.93 266.77,244.69" fill="#c8c8f0" stroke="#2424ac" stroke-width="1.0"/>
<polygon points="289.70,241.20 290.43,242.69 292.08,242.93 290.89,244.09 291.17,245.72 289.70,244.95 288.23,245.72 288.51,244.09 287.32,242.93 288.97,242.69" fill="#c8c8f0" stroke="#2424ac" stroke-width="1.0"/>
<polygon points="299.10,245.50 299.83,246.99 301.48,247.23 300.29,248.39 300.57,250.02 299.10,249.25 297.63,250.02 297.91,248.39 296.72,247.23 298.37,246.99" fill="#c8c8f0" stroke="#2424ac" stroke-width="1.0"/>
<polygon points="305.20,247.10 305.93,248.59 307.58,248.83 306.39,249.99 306.67,251.62 305.20,250.85 303.73,251.62 304.01,249.99 302.82,248.83 304.47,248.59" fill="#c8c8f0" stroke="#2424ac" stroke-width="1.0"/>
<polygon points="313.70,219.80 314.43,221.29 316.08,221.53 314.89,222.69 315.17,224.32 313.70,223.55 312.23,224.32 312.51,222.69 311.32,221.53 312.97,221.29" fill="#c8c8f0" stroke="#2424ac" stroke-width="1.0"/>
<polygon points="309.00,234.40 309.73,235.89 311.38,236.13 310.19,237.29 310.47,238.92 309.00,238.15 307.53,238.92 307.81,237.29 306.62,236.13 308.27,235.89" fill="#c8c8f0" stroke="#2424ac" stroke-width="1.0"/>
<polygon points="343.00,218.00 343.73,219.49 345.38,219.73 344.19,220.89 344.47,222.52 343.00,221.75 341.53,222.52 341.81,220.89 340.62,219.73 342.27,219.49" fill="#c8c8f0" stroke="#2424ac" stroke-width="1.0"/>
<polygon points="336.50,225.10 337.23,226.59 338.88,226.83 337.69,227.99 337.97,229.62 336.50,228.85 335.03,229.62 335.31,227.99 334.12,226.83 335.77,226.59" fill="#c8c8f0" stroke="#2424ac" stroke-width="1.0"/>
<polygon points="338.90,235.00 339.63,236.49 341.28,236.73 340.09,237.89 340.37,239.52 338.90,238.75 337.43,239.52 337.71,237.89 336.52,236.73 338.17,236.49" fill="#c8c8f0" stroke="#2424ac" stroke-width="1.0"/>
<polygon points="506.40,111.30 507.13,112.79 508.78,113.03 507.59,114.19 507.87,115.82 506.40,115.05 504.93,115.82 505.21,114.19 504.02,113.03 505.67,112.79" fill="#c8c8f0" stroke="#2424ac" stroke-width="1.0"/>
<circle cx="501.2" cy="91.8" r="2.45" fill="#0a0ac8" stroke="#000090" stroke-width="0.5"/>
<circle cx="564.6" cy="89.2" r="2.45" fill="#0a0ac8" stroke="#000090" stroke-width="0.5"/>
<circle cx="591.6" cy="81.5" r="2.45" fill="#0a0ac8" stroke="#000090" stroke-width="0.5"/>
<circle cx="624.1" cy="93.9" r="2.45" fill="#0a0ac8" stroke="#000090" stroke-width="0.5"/>
<circle cx="434.5" cy="104.3" r="2.45" fill="#0a0ac8" stroke="#000090" stroke-width="0.5"/>
<circle cx="480.2" cy="106.3" r="2.45" fill="#0a0ac8" stroke="#000090" stroke-width="0.5"/>
<circle cx="467.9" cy="116.4" r="2.45" fill="#0a0ac8" stroke="#000090" stroke-width="0.5"/>
<circle cx="474.1" cy="122.6" r="2.45" fill="#0a0ac8" stroke="#000090" stroke-width="0.5"/>
<circle cx="494.8" cy="120.9" r="2.45" fill="#0a0ac8" stroke="#000090" stroke-width="0.5"/>
<circle cx="444.1" cy="125.0" r="2.45" fill="#0a0ac8" stroke="#000090" stroke-width="0.5"/>
<circle cx="455.4" cy="125.0" r="2.45" fill="#0a0ac8" stroke="#000090" stroke-width="0.5"/>
<circle cx="467.5" cy="130.8" r="2.45" fill="#0a0ac8" stroke="#000090" stroke-width="0.5"/>
<circle cx="427.5" cy="136.7" r="2.45" fill="#0a0ac8" stroke="#000090" stroke-width="0.5"/>
<circle cx="502.6" cy="134.3" r="2.45" fill="#0a0ac8" stroke="#000090" stroke-width="0.5"/>
<circle cx="510.1" cy="104.3" r="2.45" fill="#0a0ac8" stroke="#000090" stroke-width="0.5"/>
<circle cx="516.9" cy="109.8" r="2.45" fill="#0a0ac8" stroke="#000090" stroke-width="0.5"/>
<circle cx="517.1" cy="116.0" r="2.45" fill="#0a0ac8" stroke="#000090" stroke-width="0.5"/>
<circle cx="592.3" cy="105.4" r="2.45" fill="#0a0ac8" stroke="#000090" stroke-width="0.5"/>
<circle cx="278.0" cy="176.3" r="2.45" fill="#0a0ac8" stroke="#000090" stroke-width="0.5"/>
<circle cx="334.0" cy="173.8" r="2.45" fill="#0a0ac8" stroke="#000090" stroke-width="0.5"/>
<circle cx="363.9" cy="173.4" r="2.45" fill="#0a0ac8" stroke="#000090" stroke-width="0.5"/>
<circle cx="364.6" cy="179.4" r="2.45" fill="#0a0ac8" stroke="#000090" stroke-width="0.5"/>
<circle cx="379.1" cy="147.0" r="2.45" fill="#0a0ac8" stroke="#000090" stroke-width="0.5"/>
<circle cx="372.1" cy="151.5" r="2.45" fill="#0a0ac8" stroke="#000090" stroke-width="0.5"/>
<circle cx="413.6" cy="152.3" r="2.45" fill="#0a0ac8" stroke="#000090" stroke-width="0.5"/>
<circle cx="423.0" cy="152.3" r="2.45" fill="#0a0ac8" stroke="#000090" stroke-width="0.5"/>
<circle cx="407.2" cy="161.6" r="2.45" fill="#0a0ac8" stroke="#000090" stroke-width="0.5"/>
<circle cx="370.9" cy="180.4" r="2.45" fill="#0a0ac8" stroke="#000090" stroke-width="0.5"/>
<circle cx="417.7" cy="180.4" r="2.45" fill="#0a0ac8" stroke="#000090" stroke-width="0.5"/>
<circle cx="430.4" cy="151.7" r="2.45" fill="#0a0ac8" stroke="#000090" stroke-width="0.5"/>
<circle cx="437.5" cy="154.0" r="2.45" fill="#0a0ac8" stroke="#000090" stroke-width="0.5"/>
<circle cx="438.6" cy="159.7" r="2.45" fill="#0a0ac8" stroke="#000090" stroke-width="0.5"/>
<circle cx="443.0" cy="164.3" r="2.45" fill="#0a0ac8" stroke="#000090" stroke-width="0.5"/>
<circle cx="476.9" cy="150.8" r="2.45" fill="#0a0ac8" stroke="#000090" stroke-width="0.5"/>
<circle cx="502.6" cy="164.6" r="2.45" fill="#0a0ac8" stroke="#000090" stroke-width="0.5"/>
<circle cx="433.9" cy="175.1" r="2.45" fill="#0a0ac8" stroke="#000090" stroke-width="0.5"/>
<circle cx="436.9" cy="177.4" r="2.45" fill="#0a0ac8" stroke="#000090" stroke-width="0.5"/>
<circle cx="438.6" cy="180.4" r="2.45" fill="#0a0ac8" stroke="#000090" stroke-width="0.5"/>
<circle cx="262.1" cy="196.7" r="2.45" fill="#0a0ac8" stroke="#000090" stroke-width="0.5"/>
<circle cx="316.1" cy="207.8" r="2.45" fill="#0a0ac8" stroke="#000090" stroke-width="0.5"/>
<circle cx="314.1" cy="216.9" r="2.45" fill="#0a0ac8" stroke="#000090" stroke-width="0.5"/>
<circle cx="337.7" cy="220.4" r="2.45" fill="#0a0ac8" stroke="#000090" stroke-width="0.5"/>
<circle cx="397.2" cy="189.1" r="2.45" fill="#0a0ac8" stroke="#000090" stroke-width="0.5"/>
<circle cx="400.4" cy="194.3" r="2.45" fill="#0a0ac8" stroke="#000090" stroke-width="0.5"/>
<circle cx="376.2" cy="214.2" r="2.45" fill="#0a0ac8" stroke="#000090" stroke-width="0.5"/>
<circle cx="417.1" cy="185.3" r="2.45" fill="#0a0ac8" stroke="#000090" stroke-width="0.5"/>
<circle cx="257.5" cy="229.5" r="2.45" fill="#0a0ac8" stroke="#000090" stroke-width="0.5"/>
<circle cx="246.9" cy="236.7" r="2.45" fill="#0a0ac8" stroke="#000090" stroke-width="0.5"/>
<circle cx="249.5" cy="242.0" r="2.45" fill="#0a0ac8" stroke="#000090" stroke-width="0.5"/>
<circle cx="252.4" cy="242.6" r="2.45" fill="#0a0ac8" stroke="#000090" stroke-width="0.5"/>
<circle cx="299.7" cy="226.8" r="2.45" fill="#0a0ac8" stroke="#000090" stroke-width="0.5"/>
<circle cx="297.7" cy="230.9" r="2.45" fill="#0a0ac8" stroke="#000090" stroke-width="0.5"/>
<circle cx="278.0" cy="247.5" r="2.45" fill="#0a0ac8" stroke="#000090" stroke-width="0.5"/>
<circle cx="314.9" cy="233.2" r="2.45" fill="#0a0ac8" stroke="#000090" stroke-width="0.5"/>
<circle cx="312.0" cy="238.5" r="2.45" fill="#0a0ac8" stroke="#000090" stroke-width="0.5"/>
<polygon points="607.60,125.70 608.33,127.19 609.98,127.43 608.79,128.59 609.07,130.22 607.60,129.45 606.13,130.22 606.41,128.59 605.22,127.43 606.87,127.19" fill="#c8e4c8" stroke="#226022" stroke-width="1.0"/>
<polygon points="630.00,125.70 630.73,127.19 632.38,127.43 631.19,128.59 631.47,130.22 630.00,129.45 628.53,130.22 628.81,128.59 627.62,127.43 629.27,127.19" fill="#c8e4c8" stroke="#226022" stroke-width="1.0"/>
<polygon points="606.60,131.10 607.33,132.59 608.98,132.83 607.79,133.99 608.07,135.62 606.60,134.85 605.13,135.62 605.41,133.99 604.22,132.83 605.87,132.59" fill="#c8e4c8" stroke="#226022" stroke-width="1.0"/>
<polygon points="600.90,137.70 601.63,139.19 603.28,139.43 602.09,140.59 602.37,142.22 600.90,141.45 599.43,142.22 599.71,140.59 598.52,139.43 600.17,139.19" fill="#c8e4c8" stroke="#226022" stroke-width="1.0"/>
<polygon points="598.80,143.90 599.53,145.39 601.18,145.63 599.99,146.79 600.27,148.42 598.80,147.65 597.33,148.42 597.61,146.79 596.42,145.63 598.07,145.39" fill="#c8e4c8" stroke="#226022" stroke-width="1.0"/>
<polygon points="557.20,147.10 557.93,148.59 559.58,148.83 558.39,149.99 558.67,151.62 557.20,150.85 555.73,151.62 556.01,149.99 554.82,148.83 556.47,148.59" fill="#c8e4c8" stroke="#226022" stroke-width="1.0"/>
<polygon points="567.80,145.20 568.53,146.69 570.18,146.93 568.99,148.09 569.27,149.72 567.80,148.95 566.33,149.72 566.61,148.09 565.42,146.93 567.07,146.69" fill="#c8e4c8" stroke="#226022" stroke-width="1.0"/>
<polygon points="549.20,153.90 549.93,155.39 551.58,155.63 550.39,156.79 550.67,158.42 549.20,157.65 547.73,158.42 548.01,156.79 546.82,155.63 548.47,155.39" fill="#c8e4c8" stroke="#226022" stroke-width="1.0"/>
<polygon points="546.10,157.40 546.83,158.89 548.48,159.13 547.29,160.29 547.57,161.92 546.10,161.15 544.63,161.92 544.91,160.29 543.72,159.13 545.37,158.89" fill="#c8e4c8" stroke="#226022" stroke-width="1.0"/>
<polygon points="546.50,160.60 547.23,162.09 548.88,162.33 547.69,163.49 547.97,165.12 546.50,164.35 545.03,165.12 545.31,163.49 544.12,162.33 545.77,162.09" fill="#c8e4c8" stroke="#226022" stroke-width="1.0"/>
<polygon points="548.50,162.90 549.23,164.39 550.88,164.63 549.69,165.79 549.97,167.42 548.50,166.65 547.03,167.42 547.31,165.79 546.12,164.63 547.77,164.39" fill="#c8e4c8" stroke="#226022" stroke-width="1.0"/>
<polygon points="539.90,162.10 540.63,163.59 542.28,163.83 541.09,164.99 541.37,166.62 539.90,165.85 538.43,166.62 538.71,164.99 537.52,163.83 539.17,163.59" fill="#c8e4c8" stroke="#226022" stroke-width="1.0"/>
<polygon points="542.60,163.30 543.33,164.79 544.98,165.03 543.79,166.19 544.07,167.82 542.60,167.05 541.13,167.82 541.41,166.19 540.22,165.03 541.87,164.79" fill="#c8e4c8" stroke="#226022" stroke-width="1.0"/>
<polygon points="534.00,169.90 534.73,171.39 536.38,171.63 535.19,172.79 535.47,174.42 534.00,173.65 532.53,174.42 532.81,172.79 531.62,171.63 533.27,171.39" fill="#c8e4c8" stroke="#226022" stroke-width="1.0"/>
<polygon points="537.90,168.40 538.63,169.89 540.28,170.13 539.09,171.29 539.37,172.92 537.90,172.15 536.43,172.92 536.71,171.29 535.52,170.13 537.17,169.89" fill="#c8e4c8" stroke="#226022" stroke-width="1.0"/>
<polygon points="540.70,167.20 541.43,168.69 543.08,168.93 541.89,170.09 542.17,171.72 540.70,170.95 539.23,171.72 539.51,170.09 538.32,168.93 539.97,168.69" fill="#c8e4c8" stroke="#226022" stroke-width="1.0"/>
<polygon points="542.20,170.30 542.93,171.79 544.58,172.03 543.39,173.19 543.67,174.82 542.20,174.05 540.73,174.82 541.01,173.19 539.82,172.03 541.47,171.79" fill="#c8e4c8" stroke="#226022" stroke-width="1.0"/>
<polygon points="537.20,172.70 537.93,174.19 539.58,174.43 538.39,175.59 538.67,177.22 537.20,176.45 535.73,177.22 536.01,175.59 534.82,174.43 536.47,174.19" fill="#c8e4c8" stroke="#226022" stroke-width="1.0"/>
<polygon points="549.90,170.30 550.63,171.79 552.28,172.03 551.09,173.19 551.37,174.82 549.90,174.05 548.43,174.82 548.71,173.19 547.52,172.03 549.17,171.79" fill="#c8e4c8" stroke="#226022" stroke-width="1.0"/>
<polygon points="557.70,172.10 558.43,173.59 560.08,173.83 558.89,174.99 559.17,176.62 557.70,175.85 556.23,176.62 556.51,174.99 555.32,173.83 556.97,173.59" fill="#c8e4c8" stroke="#226022" stroke-width="1.0"/>
<polygon points="561.00,164.60 561.73,166.09 563.38,166.33 562.19,167.49 562.47,169.12 561.00,168.35 559.53,169.12 559.81,167.49 558.62,166.33 560.27,166.09" fill="#c8e4c8" stroke="#226022" stroke-width="1.0"/>
<polygon points="564.00,164.60 564.73,166.09 566.38,166.33 565.19,167.49 565.47,169.12 564.00,168.35 562.53,169.12 562.81,167.49 561.62,166.33 563.27,166.09" fill="#c8e4c8" stroke="#226022" stroke-width="1.0"/>
<polygon points="520.80,170.30 521.53,171.79 523.18,172.03 521.99,173.19 522.27,174.82 520.80,174.05 519.33,174.82 519.61,173.19 518.42,172.03 520.07,171.79" fill="#c8e4c8" stroke="#226022" stroke-width="1.0"/>
<polygon points="521.20,173.40 521.93,174.89 523.58,175.13 522.39,176.29 522.67,177.92 521.20,177.15 519.73,177.92 520.01,176.29 518.82,175.13 520.47,174.89" fill="#c8e4c8" stroke="#226022" stroke-width="1.0"/>
<polygon points="577.50,149.40 578.23,150.89 579.88,151.13 578.69,152.29 578.97,153.92 577.50,153.15 576.03,153.92 576.31,152.29 575.12,151.13 576.77,150.89" fill="#c8e4c8" stroke="#226022" stroke-width="1.0"/>
<polygon points="574.80,154.10 575.53,155.59 577.18,155.83 575.99,156.99 576.27,158.62 574.80,157.85 573.33,158.62 573.61,156.99 572.42,155.83 574.07,155.59" fill="#c8e4c8" stroke="#226022" stroke-width="1.0"/>
<polygon points="586.10,150.60 586.83,152.09 588.48,152.33 587.29,153.49 587.57,155.12 586.10,154.35 584.63,155.12 584.91,153.49 583.72,152.33 585.37,152.09" fill="#c8e4c8" stroke="#226022" stroke-width="1.0"/>
<polygon points="587.30,154.50 588.03,155.99 589.68,156.23 588.49,157.39 588.77,159.02 587.30,158.25 585.83,159.02 586.11,157.39 584.92,156.23 586.57,155.99" fill="#c8e4c8" stroke="#226022" stroke-width="1.0"/>
<polygon points="578.70,161.10 579.43,162.59 581.08,162.83 579.89,163.99 580.17,165.62 578.70,164.85 577.23,165.62 577.51,163.99 576.32,162.83 577.97,162.59" fill="#c8e4c8" stroke="#226022" stroke-width="1.0"/>
<polygon points="584.20,159.50 584.93,160.99 586.58,161.23 585.39,162.39 585.67,164.02 584.20,163.25 582.73,164.02 583.01,162.39 581.82,161.23 583.47,160.99" fill="#c8e4c8" stroke="#226022" stroke-width="1.0"/>
<polygon points="583.40,157.20 584.13,158.69 585.78,158.93 584.59,160.09 584.87,161.72 583.40,160.95 581.93,161.72 582.21,160.09 581.02,158.93 582.67,158.69" fill="#c8e4c8" stroke="#226022" stroke-width="1.0"/>
<polygon points="595.10,149.80 595.83,151.29 597.48,151.53 596.29,152.69 596.57,154.32 595.10,153.55 593.63,154.32 593.91,152.69 592.72,151.53 594.37,151.29" fill="#c8e4c8" stroke="#226022" stroke-width="1.0"/>
<polygon points="598.20,161.90 598.93,163.39 600.58,163.63 599.39,164.79 599.67,166.42 598.20,165.65 596.73,166.42 597.01,164.79 595.82,163.63 597.47,163.39" fill="#c8e4c8" stroke="#226022" stroke-width="1.0"/>
<polygon points="620.20,147.50 620.93,148.99 622.58,149.23 621.39,150.39 621.67,152.02 620.20,151.25 618.73,152.02 619.01,150.39 617.82,149.23 619.47,148.99" fill="#c8e4c8" stroke="#226022" stroke-width="1.0"/>
<polygon points="628.80,150.00 629.53,151.49 631.18,151.73 629.99,152.89 630.27,154.52 628.80,153.75 627.33,154.52 627.61,152.89 626.42,151.73 628.07,151.49" fill="#c8e4c8" stroke="#226022" stroke-width="1.0"/>
<polygon points="635.60,155.50 636.33,156.99 637.98,157.23 636.79,158.39 637.07,160.02 635.60,159.25 634.13,160.02 634.41,158.39 633.22,157.23 634.87,156.99" fill="#c8e4c8" stroke="#226022" stroke-width="1.0"/>
<polygon points="614.10,162.80 614.83,164.29 616.48,164.53 615.29,165.69 615.57,167.32 614.10,166.55 612.63,167.32 612.91,165.69 611.72,164.53 613.37,164.29" fill="#c8e4c8" stroke="#226022" stroke-width="1.0"/>
<polygon points="614.70,165.90 615.43,167.39 617.08,167.63 615.89,168.79 616.17,170.42 614.70,169.65 613.23,170.42 613.51,168.79 612.32,167.63 613.97,167.39" fill="#c8e4c8" stroke="#226022" stroke-width="1.0"/>
<polygon points="623.30,166.10 624.03,167.59 625.68,167.83 624.49,168.99 624.77,170.62 623.30,169.85 621.83,170.62 622.11,168.99 620.92,167.83 622.57,167.59" fill="#c8e4c8" stroke="#226022" stroke-width="1.0"/>
<polygon points="611.00,180.00 611.73,181.49 613.38,181.73 612.19,182.89 612.47,184.52 611.00,183.75 609.53,184.52 609.81,182.89 608.62,181.73 610.27,181.49" fill="#c8e4c8" stroke="#226022" stroke-width="1.0"/>
<polygon points="631.30,179.60 632.03,181.09 633.68,181.33 632.49,182.49 632.77,184.12 631.30,183.35 629.83,184.12 630.11,182.49 628.92,181.33 630.57,181.09" fill="#c8e4c8" stroke="#226022" stroke-width="1.0"/>
<polygon points="417.10,212.20 417.83,213.69 419.48,213.93 418.29,215.09 418.57,216.72 417.10,215.95 415.63,216.72 415.91,215.09 414.72,213.93 416.37,213.69" fill="#c8e4c8" stroke="#226022" stroke-width="1.0"/>
<polygon points="424.50,216.00 425.23,217.49 426.88,217.73 425.69,218.89 425.97,220.52 424.50,219.75 423.03,220.52 423.31,218.89 422.12,217.73 423.77,217.49" fill="#c8e4c8" stroke="#226022" stroke-width="1.0"/>
<polygon points="496.50,184.10 497.23,185.59 498.88,185.83 497.69,186.99 497.97,188.62 496.50,187.85 495.03,188.62 495.31,186.99 494.12,185.83 495.77,185.59" fill="#c8e4c8" stroke="#226022" stroke-width="1.0"/>
<polygon points="484.30,186.50 485.03,187.99 486.68,188.23 485.49,189.39 485.77,191.02 484.30,190.25 482.83,191.02 483.11,189.39 481.92,188.23 483.57,187.99" fill="#c8e4c8" stroke="#226022" stroke-width="1.0"/>
<polygon points="487.80,185.30 488.53,186.79 490.18,187.03 488.99,188.19 489.27,189.82 487.80,189.05 486.33,189.82 486.61,188.19 485.42,187.03 487.07,186.79" fill="#c8e4c8" stroke="#226022" stroke-width="1.0"/>
<polygon points="502.90,187.80 503.63,189.29 505.28,189.53 504.09,190.69 504.37,192.32 502.90,191.55 501.43,192.32 501.71,190.69 500.52,189.53 502.17,189.29" fill="#c8e4c8" stroke="#226022" stroke-width="1.0"/>
<polygon points="471.40,191.20 472.13,192.69 473.78,192.93 472.59,194.09 472.87,195.72 471.40,194.95 469.93,195.72 470.21,194.09 469.02,192.93 470.67,192.69" fill="#c8e4c8" stroke="#226022" stroke-width="1.0"/>
<polygon points="467.30,197.00 468.03,198.49 469.68,198.73 468.49,199.89 468.77,201.52 467.30,200.75 465.83,201.52 466.11,199.89 464.92,198.73 466.57,198.49" fill="#c8e4c8" stroke="#226022" stroke-width="1.0"/>
<polygon points="466.70,201.70 467.43,203.19 469.08,203.43 467.89,204.59 468.17,206.22 466.70,205.45 465.23,206.22 465.51,204.59 464.32,203.43 465.97,203.19" fill="#c8e4c8" stroke="#226022" stroke-width="1.0"/>
<polygon points="481.90,197.00 482.63,198.49 484.28,198.73 483.09,199.89 483.37,201.52 481.90,200.75 480.43,201.52 480.71,199.89 479.52,198.73 481.17,198.49" fill="#c8e4c8" stroke="#226022" stroke-width="1.0"/>
<polygon points="491.90,192.90 492.63,194.39 494.28,194.63 493.09,195.79 493.37,197.42 491.90,196.65 490.43,197.42 490.71,195.79 489.52,194.63 491.17,194.39" fill="#c8e4c8" stroke="#226022" stroke-width="1.0"/>
<polygon points="495.90,205.80 496.63,207.29 498.28,207.53 497.09,208.69 497.37,210.32 495.90,209.55 494.43,210.32 494.71,208.69 493.52,207.53 495.17,207.29" fill="#c8e4c8" stroke="#226022" stroke-width="1.0"/>
<polygon points="457.90,204.60 458.63,206.09 460.28,206.33 459.09,207.49 459.37,209.12 457.90,208.35 456.43,209.12 456.71,207.49 455.52,206.33 457.17,206.09" fill="#c8e4c8" stroke="#226022" stroke-width="1.0"/>
<polygon points="429.30,208.10 430.03,209.59 431.68,209.83 430.49,210.99 430.77,212.62 429.30,211.85 427.83,212.62 428.11,210.99 426.92,209.83 428.57,209.59" fill="#c8e4c8" stroke="#226022" stroke-width="1.0"/>
<polygon points="439.80,208.70 440.53,210.19 442.18,210.43 440.99,211.59 441.27,213.22 439.80,212.45 438.33,213.22 438.61,211.59 437.42,210.43 439.07,210.19" fill="#c8e4c8" stroke="#226022" stroke-width="1.0"/>
<polygon points="442.70,212.80 443.43,214.29 445.08,214.53 443.89,215.69 444.17,217.32 442.70,216.55 441.23,217.32 441.51,215.69 440.32,214.53 441.97,214.29" fill="#c8e4c8" stroke="#226022" stroke-width="1.0"/>
<polygon points="469.00,208.70 469.73,210.19 471.38,210.43 470.19,211.59 470.47,213.22 469.00,212.45 467.53,213.22 467.81,211.59 466.62,210.43 468.27,210.19" fill="#c8e4c8" stroke="#226022" stroke-width="1.0"/>
<polygon points="477.80,204.00 478.53,205.49 480.18,205.73 478.99,206.89 479.27,208.52 477.80,207.75 476.33,208.52 476.61,206.89 475.42,205.73 477.07,205.49" fill="#c8e4c8" stroke="#226022" stroke-width="1.0"/>
<polygon points="482.50,208.10 483.23,209.59 484.88,209.83 483.69,210.99 483.97,212.62 482.50,211.85 481.03,212.62 481.31,210.99 480.12,209.83 481.77,209.59" fill="#c8e4c8" stroke="#226022" stroke-width="1.0"/>
<polygon points="490.50,210.70 491.23,212.19 492.88,212.43 491.69,213.59 491.97,215.22 490.50,214.45 489.03,215.22 489.31,213.59 488.12,212.43 489.77,212.19" fill="#c8e4c8" stroke="#226022" stroke-width="1.0"/>
<polygon points="452.70,215.70 453.43,217.19 455.08,217.43 453.89,218.59 454.17,220.22 452.70,219.45 451.23,220.22 451.51,218.59 450.32,217.43 451.97,217.19" fill="#c8e4c8" stroke="#226022" stroke-width="1.0"/>
<polygon points="467.30,215.10 468.03,216.59 469.68,216.83 468.49,217.99 468.77,219.62 467.30,218.85 465.83,219.62 466.11,217.99 464.92,216.83 466.57,216.59" fill="#c8e4c8" stroke="#226022" stroke-width="1.0"/>
<polygon points="470.80,216.30 471.53,217.79 473.18,218.03 471.99,219.19 472.27,220.82 470.80,220.05 469.33,220.82 469.61,219.19 468.42,218.03 470.07,217.79" fill="#c8e4c8" stroke="#226022" stroke-width="1.0"/>
<polygon points="434.50,218.10 435.23,219.59 436.88,219.83 435.69,220.99 435.97,222.62 434.50,221.85 433.03,222.62 433.31,220.99 432.12,219.83 433.77,219.59" fill="#c8e4c8" stroke="#226022" stroke-width="1.0"/>
<polygon points="440.40,218.60 441.13,220.09 442.78,220.33 441.59,221.49 441.87,223.12 440.40,222.35 438.93,223.12 439.21,221.49 438.02,220.33 439.67,220.09" fill="#c8e4c8" stroke="#226022" stroke-width="1.0"/>
<polygon points="484.80,215.70 485.53,217.19 487.18,217.43 485.99,218.59 486.27,220.22 484.80,219.45 483.33,220.22 483.61,218.59 482.42,217.43 484.07,217.19" fill="#c8e4c8" stroke="#226022" stroke-width="1.0"/>
<polygon points="489.50,216.90 490.23,218.39 491.88,218.63 490.69,219.79 490.97,221.42 489.50,220.65 488.03,221.42 488.31,219.79 487.12,218.63 488.77,218.39" fill="#c8e4c8" stroke="#226022" stroke-width="1.0"/>
<polygon points="494.20,212.80 494.93,214.29 496.58,214.53 495.39,215.69 495.67,217.32 494.20,216.55 492.73,217.32 493.01,215.69 491.82,214.53 493.47,214.29" fill="#c8e4c8" stroke="#226022" stroke-width="1.0"/>
<polygon points="497.70,214.60 498.43,216.09 500.08,216.33 498.89,217.49 499.17,219.12 497.70,218.35 496.23,219.12 496.51,217.49 495.32,216.33 496.97,216.09" fill="#c8e4c8" stroke="#226022" stroke-width="1.0"/>
<polygon points="519.50,176.00 520.23,177.49 521.88,177.73 520.69,178.89 520.97,180.52 519.50,179.75 518.03,180.52 518.31,178.89 517.12,177.73 518.77,177.49" fill="#c8e4c8" stroke="#226022" stroke-width="1.0"/>
<polygon points="519.10,180.70 519.83,182.19 521.48,182.43 520.29,183.59 520.57,185.22 519.10,184.45 517.63,185.22 517.91,183.59 516.72,182.43 518.37,182.19" fill="#c8e4c8" stroke="#226022" stroke-width="1.0"/>
<polygon points="504.70,182.30 505.43,183.79 507.08,184.03 505.89,185.19 506.17,186.82 504.70,186.05 503.23,186.82 503.51,185.19 502.32,184.03 503.97,183.79" fill="#c8e4c8" stroke="#226022" stroke-width="1.0"/>
<polygon points="506.20,192.40 506.93,193.89 508.58,194.13 507.39,195.29 507.67,196.92 506.20,196.15 504.73,196.92 505.01,195.29 503.82,194.13 505.47,193.89" fill="#c8e4c8" stroke="#226022" stroke-width="1.0"/>
<polygon points="531.20,186.20 531.93,187.69 533.58,187.93 532.39,189.09 532.67,190.72 531.20,189.95 529.73,190.72 530.01,189.09 528.82,187.93 530.47,187.69" fill="#c8e4c8" stroke="#226022" stroke-width="1.0"/>
<polygon points="523.20,190.30 523.93,191.79 525.58,192.03 524.39,193.19 524.67,194.82 523.20,194.05 521.73,194.82 522.01,193.19 520.82,192.03 522.47,191.79" fill="#c8e4c8" stroke="#226022" stroke-width="1.0"/>
<polygon points="539.00,175.30 539.73,176.79 541.38,177.03 540.19,178.19 540.47,179.82 539.00,179.05 537.53,179.82 537.81,178.19 536.62,177.03 538.27,176.79" fill="#c8e4c8" stroke="#226022" stroke-width="1.0"/>
<polygon points="542.10,177.60 542.83,179.09 544.48,179.33 543.29,180.49 543.57,182.12 542.10,181.35 540.63,182.12 540.91,180.49 539.72,179.33 541.37,179.09" fill="#c8e4c8" stroke="#226022" stroke-width="1.0"/>
<polygon points="539.40,182.30 540.13,183.79 541.78,184.03 540.59,185.19 540.87,186.82 539.40,186.05 537.93,186.82 538.21,185.19 537.02,184.03 538.67,183.79" fill="#c8e4c8" stroke="#226022" stroke-width="1.0"/>
<polygon points="542.10,194.80 542.83,196.29 544.48,196.53 543.29,197.69 543.57,199.32 542.10,198.55 540.63,199.32 540.91,197.69 539.72,196.53 541.37,196.29" fill="#c8e4c8" stroke="#226022" stroke-width="1.0"/>
<polygon points="522.10,200.80 522.83,202.29 524.48,202.53 523.29,203.69 523.57,205.32 522.10,204.55 520.63,205.32 520.91,203.69 519.72,202.53 521.37,202.29" fill="#c8e4c8" stroke="#226022" stroke-width="1.0"/>
<polygon points="575.90,164.00 576.63,165.49 578.28,165.73 577.09,166.89 577.37,168.52 575.90,167.75 574.43,168.52 574.71,166.89 573.52,165.73 575.17,165.49" fill="#c8e4c8" stroke="#226022" stroke-width="1.0"/>
<polygon points="573.90,167.50 574.63,168.99 576.28,169.23 575.09,170.39 575.37,172.02 573.90,171.25 572.43,172.02 572.71,170.39 571.52,169.23 573.17,168.99" fill="#c8e4c8" stroke="#226022" stroke-width="1.0"/>
<polygon points="554.80,185.10 555.53,186.59 557.18,186.83 555.99,187.99 556.27,189.62 554.80,188.85 553.33,189.62 553.61,187.99 552.42,186.83 554.07,186.59" fill="#c8e4c8" stroke="#226022" stroke-width="1.0"/>
<polygon points="574.40,183.10 575.13,184.59 576.78,184.83 575.59,185.99 575.87,187.62 574.40,186.85 572.93,187.62 573.21,185.99 572.02,184.83 573.67,184.59" fill="#c8e4c8" stroke="#226022" stroke-width="1.0"/>
<polygon points="581.10,186.60 581.83,188.09 583.48,188.33 582.29,189.49 582.57,191.12 581.10,190.35 579.63,191.12 579.91,189.49 578.72,188.33 580.37,188.09" fill="#c8e4c8" stroke="#226022" stroke-width="1.0"/>
<polygon points="584.50,170.30 585.23,171.79 586.88,172.03 585.69,173.19 585.97,174.82 584.50,174.05 583.03,174.82 583.31,173.19 582.12,172.03 583.77,171.79" fill="#c8e4c8" stroke="#226022" stroke-width="1.0"/>
<polygon points="595.70,189.20 596.43,190.69 598.08,190.93 596.89,192.09 597.17,193.72 595.70,192.95 594.23,193.72 594.51,192.09 593.32,190.93 594.97,190.69" fill="#c8e4c8" stroke="#226022" stroke-width="1.0"/>
<polygon points="589.80,196.40 590.53,197.89 592.18,198.13 590.99,199.29 591.27,200.92 589.80,200.15 588.33,200.92 588.61,199.29 587.42,198.13 589.07,197.89" fill="#c8e4c8" stroke="#226022" stroke-width="1.0"/>
<polygon points="596.00,194.50 596.73,195.99 598.38,196.23 597.19,197.39 597.47,199.02 596.00,198.25 594.53,199.02 594.81,197.39 593.62,196.23 595.27,195.99" fill="#c8e4c8" stroke="#226022" stroke-width="1.0"/>
<polygon points="598.90,202.50 599.63,203.99 601.28,204.23 600.09,205.39 600.37,207.02 598.90,206.25 597.43,207.02 597.71,205.39 596.52,204.23 598.17,203.99" fill="#c8e4c8" stroke="#226022" stroke-width="1.0"/>
<polygon points="588.70,207.50 589.43,208.99 591.08,209.23 589.89,210.39 590.17,212.02 588.70,211.25 587.23,212.02 587.51,210.39 586.32,209.23 587.97,208.99" fill="#c8e4c8" stroke="#226022" stroke-width="1.0"/>
<polygon points="596.30,214.90 597.03,216.39 598.68,216.63 597.49,217.79 597.77,219.42 596.30,218.65 594.83,219.42 595.11,217.79 593.92,216.63 595.57,216.39" fill="#c8e4c8" stroke="#226022" stroke-width="1.0"/>
<polygon points="586.50,170.20 587.23,171.69 588.88,171.93 587.69,173.09 587.97,174.72 586.50,173.95 585.03,174.72 585.31,173.09 584.12,171.93 585.77,171.69" fill="#c8e4c8" stroke="#226022" stroke-width="1.0"/>
<polygon points="591.20,174.50 591.93,175.99 593.58,176.23 592.39,177.39 592.67,179.02 591.20,178.25 589.73,179.02 590.01,177.39 588.82,176.23 590.47,175.99" fill="#c8e4c8" stroke="#226022" stroke-width="1.0"/>
<polygon points="506.30,206.50 507.03,207.99 508.68,208.23 507.49,209.39 507.77,211.02 506.30,210.25 504.83,211.02 505.11,209.39 503.92,208.23 505.57,207.99" fill="#c8e4c8" stroke="#226022" stroke-width="1.0"/>
<polygon points="510.40,208.80 511.13,210.29 512.78,210.53 511.59,211.69 511.87,213.32 510.40,212.55 508.93,213.32 509.21,211.69 508.02,210.53 509.67,210.29" fill="#c8e4c8" stroke="#226022" stroke-width="1.0"/>
<polygon points="521.50,202.40 522.23,203.89 523.88,204.13 522.69,205.29 522.97,206.92 521.50,206.15 520.03,206.92 520.31,205.29 519.12,204.13 520.77,203.89" fill="#c8e4c8" stroke="#226022" stroke-width="1.0"/>
<polygon points="522.30,211.80 523.03,213.29 524.68,213.53 523.49,214.69 523.77,216.32 522.30,215.55 520.83,216.32 521.11,214.69 519.92,213.53 521.57,213.29" fill="#c8e4c8" stroke="#226022" stroke-width="1.0"/>
<polygon points="526.20,218.80 526.93,220.29 528.58,220.53 527.39,221.69 527.67,223.32 526.20,222.55 524.73,223.32 525.01,221.69 523.82,220.53 525.47,220.29" fill="#c8e4c8" stroke="#226022" stroke-width="1.0"/>
<polygon points="512.80,216.40 513.53,217.89 515.18,218.13 513.99,219.29 514.27,220.92 512.80,220.15 511.33,220.92 511.61,219.29 510.42,218.13 512.07,217.89" fill="#c8e4c8" stroke="#226022" stroke-width="1.0"/>
<polygon points="507.50,234.60 508.23,236.09 509.88,236.33 508.69,237.49 508.97,239.12 507.50,238.35 506.03,239.12 506.31,237.49 505.12,236.33 506.77,236.09" fill="#c8e4c8" stroke="#226022" stroke-width="1.0"/>
<polygon points="537.90,226.40 538.63,227.89 540.28,228.13 539.09,229.29 539.37,230.92 537.90,230.15 536.43,230.92 536.71,229.29 535.52,228.13 537.17,227.89" fill="#c8e4c8" stroke="#226022" stroke-width="1.0"/>
<polygon points="533.80,231.60 534.53,233.09 536.18,233.33 534.99,234.49 535.27,236.12 533.80,235.35 532.33,236.12 532.61,234.49 531.42,233.33 533.07,233.09" fill="#c8e4c8" stroke="#226022" stroke-width="1.0"/>
<polygon points="536.80,229.90 537.53,231.39 539.18,231.63 537.99,232.79 538.27,234.42 536.80,233.65 535.33,234.42 535.61,232.79 534.42,231.63 536.07,231.39" fill="#c8e4c8" stroke="#226022" stroke-width="1.0"/>
<polygon points="541.60,207.10 542.33,208.59 543.98,208.83 542.79,209.99 543.07,211.62 541.60,210.85 540.13,211.62 540.41,209.99 539.22,208.83 540.87,208.59" fill="#c8e4c8" stroke="#226022" stroke-width="1.0"/>
<polygon points="540.90,209.40 541.63,210.89 543.28,211.13 542.09,212.29 542.37,213.92 540.90,213.15 539.43,213.92 539.71,212.29 538.52,211.13 540.17,210.89" fill="#c8e4c8" stroke="#226022" stroke-width="1.0"/>
<polygon points="543.60,216.60 544.33,218.09 545.98,218.33 544.79,219.49 545.07,221.12 543.60,220.35 542.13,221.12 542.41,219.49 541.22,218.33 542.87,218.09" fill="#c8e4c8" stroke="#226022" stroke-width="1.0"/>
<polygon points="550.10,212.80 550.83,214.29 552.48,214.53 551.29,215.69 551.57,217.32 550.10,216.55 548.63,217.32 548.91,215.69 547.72,214.53 549.37,214.29" fill="#c8e4c8" stroke="#226022" stroke-width="1.0"/>
<polygon points="547.30,203.40 548.03,204.89 549.68,205.13 548.49,206.29 548.77,207.92 547.30,207.15 545.83,207.92 546.11,206.29 544.92,205.13 546.57,204.89" fill="#c8e4c8" stroke="#226022" stroke-width="1.0"/>
<polygon points="555.50,205.90 556.23,207.39 557.88,207.63 556.69,208.79 556.97,210.42 555.50,209.65 554.03,210.42 554.31,208.79 553.12,207.63 554.77,207.39" fill="#c8e4c8" stroke="#226022" stroke-width="1.0"/>
<polygon points="559.10,204.00 559.83,205.49 561.48,205.73 560.29,206.89 560.57,208.52 559.10,207.75 557.63,208.52 557.91,206.89 556.72,205.73 558.37,205.49" fill="#c8e4c8" stroke="#226022" stroke-width="1.0"/>
<polygon points="574.80,203.50 575.53,204.99 577.18,205.23 575.99,206.39 576.27,208.02 574.80,207.25 573.33,208.02 573.61,206.39 572.42,205.23 574.07,204.99" fill="#c8e4c8" stroke="#226022" stroke-width="1.0"/>
<polygon points="583.00,225.20 583.73,226.69 585.38,226.93 584.19,228.09 584.47,229.72 583.00,228.95 581.53,229.72 581.81,228.09 580.62,226.93 582.27,226.69" fill="#c8e4c8" stroke="#226022" stroke-width="1.0"/>
<polygon points="438.00,223.30 438.73,224.79 440.38,225.03 439.19,226.19 439.47,227.82 438.00,227.05 436.53,227.82 436.81,226.19 435.62,225.03 437.27,224.79" fill="#c8e4c8" stroke="#226022" stroke-width="1.0"/>
<polygon points="429.80,225.60 430.53,227.09 432.18,227.33 430.99,228.49 431.27,230.12 429.80,229.35 428.33,230.12 428.61,228.49 427.42,227.33 429.07,227.09" fill="#c8e4c8" stroke="#226022" stroke-width="1.0"/>
<polygon points="451.50,230.30 452.23,231.79 453.88,232.03 452.69,233.19 452.97,234.82 451.50,234.05 450.03,234.82 450.31,233.19 449.12,232.03 450.77,231.79" fill="#c8e4c8" stroke="#226022" stroke-width="1.0"/>
<polygon points="467.30,228.00 468.03,229.49 469.68,229.73 468.49,230.89 468.77,232.52 467.30,231.75 465.83,232.52 466.11,230.89 464.92,229.73 466.57,229.49" fill="#c8e4c8" stroke="#226022" stroke-width="1.0"/>
<polygon points="468.50,231.50 469.23,232.99 470.88,233.23 469.69,234.39 469.97,236.02 468.50,235.25 467.03,236.02 467.31,234.39 466.12,233.23 467.77,232.99" fill="#c8e4c8" stroke="#226022" stroke-width="1.0"/>
<polygon points="466.70,233.20 467.43,234.69 469.08,234.93 467.89,236.09 468.17,237.72 466.70,236.95 465.23,237.72 465.51,236.09 464.32,234.93 465.97,234.69" fill="#c8e4c8" stroke="#226022" stroke-width="1.0"/>
<polygon points="482.50,228.00 483.23,229.49 484.88,229.73 483.69,230.89 483.97,232.52 482.50,231.75 481.03,232.52 481.31,230.89 480.12,229.73 481.77,229.49" fill="#c8e4c8" stroke="#226022" stroke-width="1.0"/>
<polygon points="487.80,229.70 488.53,231.19 490.18,231.43 488.99,232.59 489.27,234.22 487.80,233.45 486.33,234.22 486.61,232.59 485.42,231.43 487.07,231.19" fill="#c8e4c8" stroke="#226022" stroke-width="1.0"/>
<polygon points="484.80,233.20 485.53,234.69 487.18,234.93 485.99,236.09 486.27,237.72 484.80,236.95 483.33,237.72 483.61,236.09 482.42,234.93 484.07,234.69" fill="#c8e4c8" stroke="#226022" stroke-width="1.0"/>
<polygon points="491.90,221.50 492.63,222.99 494.28,223.23 493.09,224.39 493.37,226.02 491.90,225.25 490.43,226.02 490.71,224.39 489.52,223.23 491.17,222.99" fill="#c8e4c8" stroke="#226022" stroke-width="1.0"/>
<polygon points="459.10,220.40 459.83,221.89 461.48,222.13 460.29,223.29 460.57,224.92 459.10,224.15 457.63,224.92 457.91,223.29 456.72,222.13 458.37,221.89" fill="#c8e4c8" stroke="#226022" stroke-width="1.0"/>
<polygon points="432.20,235.00 432.93,236.49 434.58,236.73 433.39,237.89 433.67,239.52 432.20,238.75 430.73,239.52 431.01,237.89 429.82,236.73 431.47,236.49" fill="#c8e4c8" stroke="#226022" stroke-width="1.0"/>
<polygon points="436.30,240.30 437.03,241.79 438.68,242.03 437.49,243.19 437.77,244.82 436.30,244.05 434.83,244.82 435.11,243.19 433.92,242.03 435.57,241.79" fill="#c8e4c8" stroke="#226022" stroke-width="1.0"/>
<polygon points="445.60,237.90 446.33,239.39 447.98,239.63 446.79,240.79 447.07,242.42 445.60,241.65 444.13,242.42 444.41,240.79 443.22,239.63 444.87,239.39" fill="#c8e4c8" stroke="#226022" stroke-width="1.0"/>
<polygon points="450.90,240.90 451.63,242.39 453.28,242.63 452.09,243.79 452.37,245.42 450.90,244.65 449.43,245.42 449.71,243.79 448.52,242.63 450.17,242.39" fill="#c8e4c8" stroke="#226022" stroke-width="1.0"/>
<polygon points="476.40,242.00 477.13,243.49 478.78,243.73 477.59,244.89 477.87,246.52 476.40,245.75 474.93,246.52 475.21,244.89 474.02,243.73 475.67,243.49" fill="#c8e4c8" stroke="#226022" stroke-width="1.0"/>
<polygon points="400.20,228.00 400.93,229.49 402.58,229.73 401.39,230.89 401.67,232.52 400.20,231.75 398.73,232.52 399.01,230.89 397.82,229.73 399.47,229.49" fill="#c8e4c8" stroke="#226022" stroke-width="1.0"/>
<polygon points="404.30,227.40 405.03,228.89 406.68,229.13 405.49,230.29 405.77,231.92 404.30,231.15 402.83,231.92 403.11,230.29 401.92,229.13 403.57,228.89" fill="#c8e4c8" stroke="#226022" stroke-width="1.0"/>
<polygon points="407.20,233.20 407.93,234.69 409.58,234.93 408.39,236.09 408.67,237.72 407.20,236.95 405.73,237.72 406.01,236.09 404.82,234.93 406.47,234.69" fill="#c8e4c8" stroke="#226022" stroke-width="1.0"/>
<polygon points="401.30,236.50 402.03,237.99 403.68,238.23 402.49,239.39 402.77,241.02 401.30,240.25 399.83,241.02 400.11,239.39 398.92,238.23 400.57,237.99" fill="#c8e4c8" stroke="#226022" stroke-width="1.0"/>
<polygon points="388.50,238.50 389.23,239.99 390.88,240.23 389.69,241.39 389.97,243.02 388.50,242.25 387.03,243.02 387.31,241.39 386.12,240.23 387.77,239.99" fill="#c8e4c8" stroke="#226022" stroke-width="1.0"/>
<polygon points="382.60,245.90 383.33,247.39 384.98,247.63 383.79,248.79 384.07,250.42 382.60,249.65 381.13,250.42 381.41,248.79 380.22,247.63 381.87,247.39" fill="#c8e4c8" stroke="#226022" stroke-width="1.0"/>
<polygon points="414.80,245.90 415.53,247.39 417.18,247.63 415.99,248.79 416.27,250.42 414.80,249.65 413.33,250.42 413.61,248.79 412.42,247.63 414.07,247.39" fill="#c8e4c8" stroke="#226022" stroke-width="1.0"/>
<polygon points="420.00,246.40 420.73,247.89 422.38,248.13 421.19,249.29 421.47,250.92 420.00,250.15 418.53,250.92 418.81,249.29 417.62,248.13 419.27,247.89" fill="#c8e4c8" stroke="#226022" stroke-width="1.0"/>
<polygon points="423.00,244.40 423.73,245.89 425.38,246.13 424.19,247.29 424.47,248.92 423.00,248.15 421.53,248.92 421.81,247.29 420.62,246.13 422.27,245.89" fill="#c8e4c8" stroke="#226022" stroke-width="1.0"/>
<polygon points="411.30,251.70 412.03,253.19 413.68,253.43 412.49,254.59 412.77,256.22 411.30,255.45 409.83,256.22 410.11,254.59 408.92,253.43 410.57,253.19" fill="#c8e4c8" stroke="#226022" stroke-width="1.0"/>
<polygon points="576.10,188.20 576.83,189.69 578.48,189.93 577.29,191.09 577.57,192.72 576.10,191.95 574.63,192.72 574.91,191.09 573.72,189.93 575.37,189.69" fill="#c8e4c8" stroke="#226022" stroke-width="1.0"/>
<polygon points="573.80,189.30 574.53,190.79 576.18,191.03 574.99,192.19 575.27,193.82 573.80,193.05 572.33,193.82 572.61,192.19 571.42,191.03 573.07,190.79" fill="#c8e4c8" stroke="#226022" stroke-width="1.0"/>
<polygon points="588.60,194.40 589.33,195.89 590.98,196.13 589.79,197.29 590.07,198.92 588.60,198.15 587.13,198.92 587.41,197.29 586.22,196.13 587.87,195.89" fill="#c8e4c8" stroke="#226022" stroke-width="1.0"/>
<polygon points="591.00,198.30 591.73,199.79 593.38,200.03 592.19,201.19 592.47,202.82 591.00,202.05 589.53,202.82 589.81,201.19 588.62,200.03 590.27,199.79" fill="#c8e4c8" stroke="#226022" stroke-width="1.0"/>
<polygon points="583.20,198.30 583.93,199.79 585.58,200.03 584.39,201.19 584.67,202.82 583.20,202.05 581.73,202.82 582.01,201.19 580.82,200.03 582.47,199.79" fill="#c8e4c8" stroke="#226022" stroke-width="1.0"/>
<polygon points="555.10,192.70 555.83,194.19 557.48,194.43 556.29,195.59 556.57,197.22 555.10,196.45 553.63,197.22 553.91,195.59 552.72,194.43 554.37,194.19" fill="#c8e4c8" stroke="#226022" stroke-width="1.0"/>
<polygon points="549.20,198.60 549.93,200.09 551.58,200.33 550.39,201.49 550.67,203.12 549.20,202.35 547.73,203.12 548.01,201.49 546.82,200.33 548.47,200.09" fill="#c8e4c8" stroke="#226022" stroke-width="1.0"/>
<polygon points="555.90,201.90 556.63,203.39 558.28,203.63 557.09,204.79 557.37,206.42 555.90,205.65 554.43,206.42 554.71,204.79 553.52,203.63 555.17,203.39" fill="#c8e4c8" stroke="#226022" stroke-width="1.0"/>
<polygon points="561.80,201.10 562.53,202.59 564.18,202.83 562.99,203.99 563.27,205.62 561.80,204.85 560.33,205.62 560.61,203.99 559.42,202.83 561.07,202.59" fill="#c8e4c8" stroke="#226022" stroke-width="1.0"/>
<polygon points="545.10,190.60 545.83,192.09 547.48,192.33 546.29,193.49 546.57,195.12 545.10,194.35 543.63,195.12 543.91,193.49 542.72,192.33 544.37,192.09" fill="#c8e4c8" stroke="#226022" stroke-width="1.0"/>
<polygon points="534.20,200.20 534.93,201.69 536.58,201.93 535.39,203.09 535.67,204.72 534.20,203.95 532.73,204.72 533.01,203.09 531.82,201.93 533.47,201.69" fill="#c8e4c8" stroke="#226022" stroke-width="1.0"/>
<polygon points="497.80,180.10 498.53,181.59 500.18,181.83 498.99,182.99 499.27,184.62 497.80,183.85 496.33,184.62 496.61,182.99 495.42,181.83 497.07,181.59" fill="#c8e4c8" stroke="#226022" stroke-width="1.0"/>
<circle cx="610.3" cy="133.8" r="2.45" fill="#0c760c" stroke="#075507" stroke-width="0.5"/>
<circle cx="614.4" cy="135.3" r="2.45" fill="#0c760c" stroke="#075507" stroke-width="0.5"/>
<circle cx="590.6" cy="140.4" r="2.45" fill="#0c760c" stroke="#075507" stroke-width="0.5"/>
<circle cx="594.2" cy="138.7" r="2.45" fill="#0c760c" stroke="#075507" stroke-width="0.5"/>
<circle cx="574.3" cy="148.2" r="2.45" fill="#0c760c" stroke="#075507" stroke-width="0.5"/>
<circle cx="527.8" cy="161.7" r="2.45" fill="#0c760c" stroke="#075507" stroke-width="0.5"/>
<circle cx="528.6" cy="169.1" r="2.45" fill="#0c760c" stroke="#075507" stroke-width="0.5"/>
<circle cx="541.7" cy="172.6" r="2.45" fill="#0c760c" stroke="#075507" stroke-width="0.5"/>
<circle cx="563.3" cy="161.7" r="2.45" fill="#0c760c" stroke="#075507" stroke-width="0.5"/>
<circle cx="563.5" cy="173.6" r="2.45" fill="#0c760c" stroke="#075507" stroke-width="0.5"/>
<circle cx="581.1" cy="156.0" r="2.45" fill="#0c760c" stroke="#075507" stroke-width="0.5"/>
<circle cx="582.2" cy="158.7" r="2.45" fill="#0c760c" stroke="#075507" stroke-width="0.5"/>
<circle cx="588.5" cy="158.3" r="2.45" fill="#0c760c" stroke="#075507" stroke-width="0.5"/>
<circle cx="572.1" cy="161.4" r="2.45" fill="#0c760c" stroke="#075507" stroke-width="0.5"/>
<circle cx="576.4" cy="162.2" r="2.45" fill="#0c760c" stroke="#075507" stroke-width="0.5"/>
<circle cx="586.1" cy="164.2" r="2.45" fill="#0c760c" stroke="#075507" stroke-width="0.5"/>
<circle cx="601.3" cy="165.0" r="2.45" fill="#0c760c" stroke="#075507" stroke-width="0.5"/>
<circle cx="618.1" cy="154.1" r="2.45" fill="#0c760c" stroke="#075507" stroke-width="0.5"/>
<circle cx="627.6" cy="155.3" r="2.45" fill="#0c760c" stroke="#075507" stroke-width="0.5"/>
<circle cx="633.7" cy="159.6" r="2.45" fill="#0c760c" stroke="#075507" stroke-width="0.5"/>
<circle cx="637.4" cy="161.8" r="2.45" fill="#0c760c" stroke="#075507" stroke-width="0.5"/>
<circle cx="617.2" cy="160.8" r="2.45" fill="#0c760c" stroke="#075507" stroke-width="0.5"/>
<circle cx="609.8" cy="162.7" r="2.45" fill="#0c760c" stroke="#075507" stroke-width="0.5"/>
<circle cx="608.0" cy="166.4" r="2.45" fill="#0c760c" stroke="#075507" stroke-width="0.5"/>
<circle cx="615.7" cy="172.9" r="2.45" fill="#0c760c" stroke="#075507" stroke-width="0.5"/>
<circle cx="602.5" cy="180.3" r="2.45" fill="#0c760c" stroke="#075507" stroke-width="0.5"/>
<circle cx="493.0" cy="199.9" r="2.45" fill="#0c760c" stroke="#075507" stroke-width="0.5"/>
<circle cx="494.8" cy="202.2" r="2.45" fill="#0c760c" stroke="#075507" stroke-width="0.5"/>
<circle cx="495.9" cy="204.0" r="2.45" fill="#0c760c" stroke="#075507" stroke-width="0.5"/>
<circle cx="502.6" cy="207.5" r="2.45" fill="#0c760c" stroke="#075507" stroke-width="0.5"/>
<circle cx="454.7" cy="207.5" r="2.45" fill="#0c760c" stroke="#075507" stroke-width="0.5"/>
<circle cx="465.5" cy="211.4" r="2.45" fill="#0c760c" stroke="#075507" stroke-width="0.5"/>
<circle cx="474.5" cy="211.4" r="2.45" fill="#0c760c" stroke="#075507" stroke-width="0.5"/>
<circle cx="489.5" cy="209.2" r="2.45" fill="#0c760c" stroke="#075507" stroke-width="0.5"/>
<circle cx="448.6" cy="218.0" r="2.45" fill="#0c760c" stroke="#075507" stroke-width="0.5"/>
<circle cx="457.9" cy="217.4" r="2.45" fill="#0c760c" stroke="#075507" stroke-width="0.5"/>
<circle cx="462.0" cy="217.4" r="2.45" fill="#0c760c" stroke="#075507" stroke-width="0.5"/>
<circle cx="508.6" cy="178.7" r="2.45" fill="#0c760c" stroke="#075507" stroke-width="0.5"/>
<circle cx="514.0" cy="179.1" r="2.45" fill="#0c760c" stroke="#075507" stroke-width="0.5"/>
<circle cx="508.6" cy="183.8" r="2.45" fill="#0c760c" stroke="#075507" stroke-width="0.5"/>
<circle cx="513.6" cy="186.0" r="2.45" fill="#0c760c" stroke="#075507" stroke-width="0.5"/>
<circle cx="506.6" cy="191.2" r="2.45" fill="#0c760c" stroke="#075507" stroke-width="0.5"/>
<circle cx="514.0" cy="197.4" r="2.45" fill="#0c760c" stroke="#075507" stroke-width="0.5"/>
<circle cx="510.5" cy="201.3" r="2.45" fill="#0c760c" stroke="#075507" stroke-width="0.5"/>
<circle cx="516.8" cy="201.3" r="2.45" fill="#0c760c" stroke="#075507" stroke-width="0.5"/>
<circle cx="530.0" cy="185.4" r="2.45" fill="#0c760c" stroke="#075507" stroke-width="0.5"/>
<circle cx="525.3" cy="189.6" r="2.45" fill="#0c760c" stroke="#075507" stroke-width="0.5"/>
<circle cx="536.3" cy="182.2" r="2.45" fill="#0c760c" stroke="#075507" stroke-width="0.5"/>
<circle cx="536.1" cy="191.2" r="2.45" fill="#0c760c" stroke="#075507" stroke-width="0.5"/>
<circle cx="541.1" cy="192.6" r="2.45" fill="#0c760c" stroke="#075507" stroke-width="0.5"/>
<circle cx="544.1" cy="183.0" r="2.45" fill="#0c760c" stroke="#075507" stroke-width="0.5"/>
<circle cx="529.2" cy="200.3" r="2.45" fill="#0c760c" stroke="#075507" stroke-width="0.5"/>
<circle cx="532.8" cy="201.0" r="2.45" fill="#0c760c" stroke="#075507" stroke-width="0.5"/>
<circle cx="536.9" cy="199.7" r="2.45" fill="#0c760c" stroke="#075507" stroke-width="0.5"/>
<circle cx="566.5" cy="173.4" r="2.45" fill="#0c760c" stroke="#075507" stroke-width="0.5"/>
<circle cx="569.6" cy="172.6" r="2.45" fill="#0c760c" stroke="#075507" stroke-width="0.5"/>
<circle cx="572.8" cy="172.2" r="2.45" fill="#0c760c" stroke="#075507" stroke-width="0.5"/>
<circle cx="545.1" cy="180.8" r="2.45" fill="#0c760c" stroke="#075507" stroke-width="0.5"/>
<circle cx="554.0" cy="180.0" r="2.45" fill="#0c760c" stroke="#075507" stroke-width="0.5"/>
<circle cx="548.6" cy="185.1" r="2.45" fill="#0c760c" stroke="#075507" stroke-width="0.5"/>
<circle cx="545.5" cy="185.8" r="2.45" fill="#0c760c" stroke="#075507" stroke-width="0.5"/>
<circle cx="559.9" cy="183.9" r="2.45" fill="#0c760c" stroke="#075507" stroke-width="0.5"/>
<circle cx="576.0" cy="180.0" r="2.45" fill="#0c760c" stroke="#075507" stroke-width="0.5"/>
<circle cx="579.5" cy="178.2" r="2.45" fill="#0c760c" stroke="#075507" stroke-width="0.5"/>
<circle cx="582.1" cy="175.3" r="2.45" fill="#0c760c" stroke="#075507" stroke-width="0.5"/>
<circle cx="578.0" cy="183.9" r="2.45" fill="#0c760c" stroke="#075507" stroke-width="0.5"/>
<circle cx="577.2" cy="188.2" r="2.45" fill="#0c760c" stroke="#075507" stroke-width="0.5"/>
<circle cx="581.3" cy="182.7" r="2.45" fill="#0c760c" stroke="#075507" stroke-width="0.5"/>
<circle cx="541.2" cy="189.7" r="2.45" fill="#0c760c" stroke="#075507" stroke-width="0.5"/>
<circle cx="588.6" cy="184.7" r="2.45" fill="#0c760c" stroke="#075507" stroke-width="0.5"/>
<circle cx="588.2" cy="194.0" r="2.45" fill="#0c760c" stroke="#075507" stroke-width="0.5"/>
<circle cx="592.0" cy="196.4" r="2.45" fill="#0c760c" stroke="#075507" stroke-width="0.5"/>
<circle cx="585.8" cy="197.5" r="2.45" fill="#0c760c" stroke="#075507" stroke-width="0.5"/>
<circle cx="595.0" cy="200.8" r="2.45" fill="#0c760c" stroke="#075507" stroke-width="0.5"/>
<circle cx="623.5" cy="195.0" r="2.45" fill="#0c760c" stroke="#075507" stroke-width="0.5"/>
<circle cx="591.6" cy="208.1" r="2.45" fill="#0c760c" stroke="#075507" stroke-width="0.5"/>
<circle cx="584.4" cy="210.9" r="2.45" fill="#0c760c" stroke="#075507" stroke-width="0.5"/>
<circle cx="593.9" cy="219.8" r="2.45" fill="#0c760c" stroke="#075507" stroke-width="0.5"/>
<circle cx="595.1" cy="170.5" r="2.45" fill="#0c760c" stroke="#075507" stroke-width="0.5"/>
<circle cx="596.7" cy="174.0" r="2.45" fill="#0c760c" stroke="#075507" stroke-width="0.5"/>
<circle cx="589.5" cy="179.5" r="2.45" fill="#0c760c" stroke="#075507" stroke-width="0.5"/>
<circle cx="578.3" cy="161.6" r="2.45" fill="#0c760c" stroke="#075507" stroke-width="0.5"/>
<circle cx="505.8" cy="215.2" r="2.45" fill="#0c760c" stroke="#075507" stroke-width="0.5"/>
<circle cx="505.2" cy="219.3" r="2.45" fill="#0c760c" stroke="#075507" stroke-width="0.5"/>
<circle cx="516.9" cy="208.2" r="2.45" fill="#0c760c" stroke="#075507" stroke-width="0.5"/>
<circle cx="516.9" cy="213.5" r="2.45" fill="#0c760c" stroke="#075507" stroke-width="0.5"/>
<circle cx="522.9" cy="207.2" r="2.45" fill="#0c760c" stroke="#075507" stroke-width="0.5"/>
<circle cx="525.0" cy="217.1" r="2.45" fill="#0c760c" stroke="#075507" stroke-width="0.5"/>
<circle cx="528.5" cy="212.2" r="2.45" fill="#0c760c" stroke="#075507" stroke-width="0.5"/>
<circle cx="519.0" cy="224.6" r="2.45" fill="#0c760c" stroke="#075507" stroke-width="0.5"/>
<circle cx="514.3" cy="228.7" r="2.45" fill="#0c760c" stroke="#075507" stroke-width="0.5"/>
<circle cx="532.8" cy="205.9" r="2.45" fill="#0c760c" stroke="#075507" stroke-width="0.5"/>
<circle cx="537.7" cy="205.9" r="2.45" fill="#0c760c" stroke="#075507" stroke-width="0.5"/>
<circle cx="550.9" cy="211.7" r="2.45" fill="#0c760c" stroke="#075507" stroke-width="0.5"/>
<circle cx="551.9" cy="202.7" r="2.45" fill="#0c760c" stroke="#075507" stroke-width="0.5"/>
<circle cx="567.8" cy="204.1" r="2.45" fill="#0c760c" stroke="#075507" stroke-width="0.5"/>
<circle cx="573.3" cy="201.9" r="2.45" fill="#0c760c" stroke="#075507" stroke-width="0.5"/>
<circle cx="580.0" cy="225.7" r="2.45" fill="#0c760c" stroke="#075507" stroke-width="0.5"/>
<circle cx="464.9" cy="227.4" r="2.45" fill="#0c760c" stroke="#075507" stroke-width="0.5"/>
<circle cx="467.9" cy="226.2" r="2.45" fill="#0c760c" stroke="#075507" stroke-width="0.5"/>
<circle cx="473.1" cy="229.1" r="2.45" fill="#0c760c" stroke="#075507" stroke-width="0.5"/>
<circle cx="476.1" cy="231.5" r="2.45" fill="#0c760c" stroke="#075507" stroke-width="0.5"/>
<circle cx="477.8" cy="229.1" r="2.45" fill="#0c760c" stroke="#075507" stroke-width="0.5"/>
<circle cx="498.5" cy="235.0" r="2.45" fill="#0c760c" stroke="#075507" stroke-width="0.5"/>
<circle cx="459.1" cy="221.5" r="2.45" fill="#0c760c" stroke="#075507" stroke-width="0.5"/>
<circle cx="428.1" cy="241.4" r="2.45" fill="#0c760c" stroke="#075507" stroke-width="0.5"/>
<circle cx="425.4" cy="246.1" r="2.45" fill="#0c760c" stroke="#075507" stroke-width="0.5"/>
<circle cx="440.6" cy="244.7" r="2.45" fill="#0c760c" stroke="#075507" stroke-width="0.5"/>
<circle cx="452.7" cy="250.2" r="2.45" fill="#0c760c" stroke="#075507" stroke-width="0.5"/>
<circle cx="460.9" cy="247.2" r="2.45" fill="#0c760c" stroke="#075507" stroke-width="0.5"/>
<circle cx="410.9" cy="244.0" r="2.45" fill="#0c760c" stroke="#075507" stroke-width="0.5"/>
<circle cx="363.9" cy="256.8" r="2.45" fill="#0c760c" stroke="#075507" stroke-width="0.5"/>
<circle cx="370.0" cy="256.4" r="2.45" fill="#0c760c" stroke="#075507" stroke-width="0.5"/>
<circle cx="582.8" cy="179.6" r="2.45" fill="#0c760c" stroke="#075507" stroke-width="0.5"/>
<circle cx="580.4" cy="185.8" r="2.45" fill="#0c760c" stroke="#075507" stroke-width="0.5"/>
<circle cx="582.8" cy="196.3" r="2.45" fill="#0c760c" stroke="#075507" stroke-width="0.5"/>
<circle cx="556.8" cy="193.3" r="2.45" fill="#0c760c" stroke="#075507" stroke-width="0.5"/>
<circle cx="563.0" cy="192.1" r="2.45" fill="#0c760c" stroke="#075507" stroke-width="0.5"/>
<circle cx="559.3" cy="199.2" r="2.45" fill="#0c760c" stroke="#075507" stroke-width="0.5"/>
<circle cx="568.7" cy="252.4" r="2.45" fill="#0c760c" stroke="#075507" stroke-width="0.5"/>
</svg>
</body></html>
